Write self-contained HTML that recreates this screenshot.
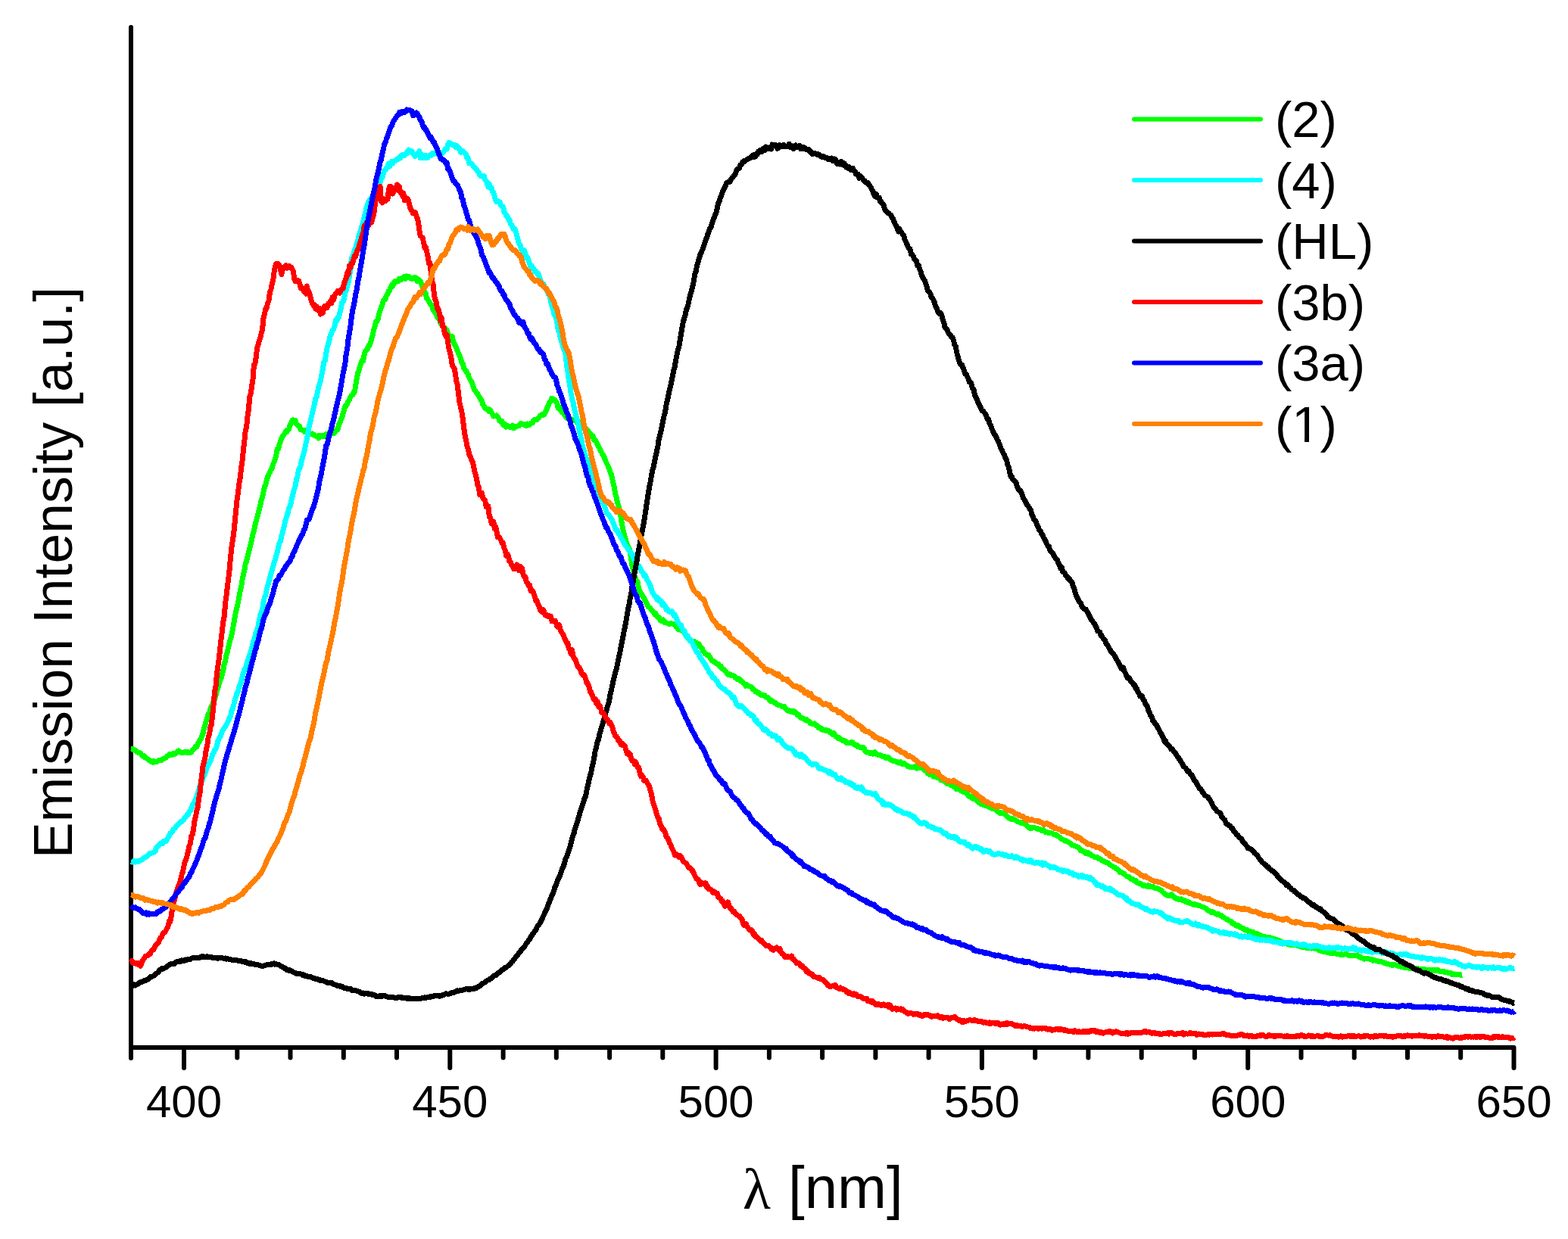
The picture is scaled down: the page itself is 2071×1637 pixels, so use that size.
<!DOCTYPE html>
<html><head><meta charset="utf-8"><title>Emission spectra</title>
<style>html,body{margin:0;padding:0;background:#fff;}body{width:2071px;height:1637px;overflow:hidden;}svg{display:block;}</style>
</head><body>
<svg width="2071" height="1637" viewBox="0 0 2071 1637">
<rect width="2071" height="1637" fill="#fff"/>
<g stroke="#000" stroke-width="6" fill="none">
<path d="M173,36 V1398" stroke-linecap="round"/>
<path d="M173,1384 H1999.5 V1411" stroke-linecap="round" stroke-linejoin="round"/>
<path d="M243.0,1384 V1411" stroke-linecap="round"/>
<path d="M313.3,1384 V1397.5" stroke-linecap="round"/>
<path d="M383.5,1384 V1397.5" stroke-linecap="round"/>
<path d="M453.8,1384 V1397.5" stroke-linecap="round"/>
<path d="M524.0,1384 V1397.5" stroke-linecap="round"/>
<path d="M594.3,1384 V1411" stroke-linecap="round"/>
<path d="M664.6,1384 V1397.5" stroke-linecap="round"/>
<path d="M734.8,1384 V1397.5" stroke-linecap="round"/>
<path d="M805.1,1384 V1397.5" stroke-linecap="round"/>
<path d="M875.3,1384 V1397.5" stroke-linecap="round"/>
<path d="M945.6,1384 V1411" stroke-linecap="round"/>
<path d="M1015.9,1384 V1397.5" stroke-linecap="round"/>
<path d="M1086.1,1384 V1397.5" stroke-linecap="round"/>
<path d="M1156.4,1384 V1397.5" stroke-linecap="round"/>
<path d="M1226.6,1384 V1397.5" stroke-linecap="round"/>
<path d="M1296.9,1384 V1411" stroke-linecap="round"/>
<path d="M1367.2,1384 V1397.5" stroke-linecap="round"/>
<path d="M1437.4,1384 V1397.5" stroke-linecap="round"/>
<path d="M1507.7,1384 V1397.5" stroke-linecap="round"/>
<path d="M1577.9,1384 V1397.5" stroke-linecap="round"/>
<path d="M1648.2,1384 V1411" stroke-linecap="round"/>
<path d="M1718.5,1384 V1397.5" stroke-linecap="round"/>
<path d="M1788.7,1384 V1397.5" stroke-linecap="round"/>
<path d="M1859.0,1384 V1397.5" stroke-linecap="round"/>
<path d="M1929.2,1384 V1397.5" stroke-linecap="round"/>
</g>
<path d="M173.0,989.2 L174.4,989.2 L175.8,990.4 L177.2,990.6 L178.6,990.9 L180.0,992.3 L181.4,994.0 L182.8,994.7 L184.2,994.6 L185.6,995.4 L187.0,997.2 L188.4,998.9 L189.8,998.1 L191.2,1000.7 L192.6,1000.8 L194.0,1002.1 L195.4,1003.2 L196.8,1004.2 L198.2,1005.4 L199.6,1006.3 L201.0,1005.6 L202.4,1007.1 L203.8,1005.8 L205.2,1006.6 L206.6,1006.8 L208.0,1005.8 L209.4,1004.7 L210.8,1004.2 L212.2,1004.2 L213.6,1004.3 L215.0,1002.7 L216.4,1002.6 L217.8,1001.6 L219.2,1000.9 L220.6,999.3 L222.0,998.3 L223.4,996.7 L224.8,996.6 L226.2,997.1 L227.6,997.5 L229.0,995.2 L230.4,996.7 L231.8,995.7 L233.2,994.2 L234.6,992.9 L236.0,992.0 L237.4,993.3 L238.8,994.0 L240.2,994.4 L241.6,994.5 L243.0,994.1 L244.4,993.1 L245.8,994.2 L247.2,994.8 L248.6,993.5 L250.0,994.8 L251.4,994.5 L252.8,993.9 L254.2,991.3 L255.6,990.3 L257.0,988.8 L258.4,986.3 L259.8,986.5 L261.2,982.7 L262.6,981.0 L264.0,977.8 L265.4,976.2 L266.8,972.6 L268.2,968.4 L269.6,962.2 L271.0,957.1 L272.4,951.8 L273.8,948.1 L275.2,943.3 L276.6,942.0 L278.0,936.0 L279.4,933.0 L280.8,930.6 L282.2,926.1 L283.6,923.8 L285.0,918.3 L286.4,913.5 L287.8,909.3 L289.2,904.3 L290.6,899.5 L292.0,896.3 L293.4,890.9 L294.8,885.6 L296.2,877.5 L297.6,873.3 L299.0,865.5 L300.4,861.3 L301.8,854.0 L303.2,848.3 L304.6,843.8 L306.0,838.8 L307.4,831.6 L308.8,823.8 L310.2,815.5 L311.6,808.0 L313.0,802.6 L314.4,796.2 L315.8,788.6 L317.2,781.0 L318.6,775.7 L320.0,766.2 L321.4,759.3 L322.8,753.7 L324.2,744.7 L325.6,741.6 L327.0,735.2 L328.4,730.3 L329.8,724.4 L331.2,718.6 L332.6,712.9 L334.0,705.3 L335.4,701.3 L336.8,694.7 L338.2,689.0 L339.6,683.8 L341.0,678.3 L342.4,673.3 L343.8,667.5 L345.2,660.6 L346.6,656.4 L348.0,650.0 L349.4,643.6 L350.8,640.2 L352.2,634.7 L353.6,630.1 L355.0,626.3 L356.4,624.2 L357.8,621.0 L359.2,618.6 L360.6,613.5 L362.0,610.4 L363.4,606.2 L364.8,601.4 L366.2,593.2 L367.6,592.8 L369.0,587.4 L370.4,583.3 L371.8,579.6 L373.2,576.7 L374.6,574.7 L376.0,572.6 L377.4,569.9 L378.8,570.5 L380.2,567.6 L381.6,566.7 L383.0,561.9 L384.4,559.1 L385.8,555.7 L387.2,554.8 L388.6,555.6 L390.0,555.5 L391.4,559.8 L392.8,561.8 L394.2,562.8 L395.6,563.2 L397.0,567.7 L398.4,567.9 L399.8,568.3 L401.2,568.8 L402.6,570.8 L404.0,568.7 L405.4,569.2 L406.8,568.2 L408.2,572.6 L409.6,572.7 L411.0,573.5 L412.4,572.9 L413.8,574.4 L415.2,574.6 L416.6,576.0 L418.0,576.3 L419.4,575.9 L420.8,579.0 L422.2,575.6 L423.6,577.0 L425.0,576.6 L426.4,575.2 L427.8,576.5 L429.2,574.9 L430.6,573.7 L432.0,574.0 L433.4,572.6 L434.8,574.7 L436.2,574.0 L437.6,573.2 L439.0,571.2 L440.4,570.9 L441.8,572.2 L443.2,569.5 L444.6,567.6 L446.0,567.6 L447.4,561.5 L448.8,558.6 L450.2,554.9 L451.6,552.0 L453.0,546.3 L454.4,541.9 L455.8,536.7 L457.2,536.0 L458.6,533.6 L460.0,530.2 L461.4,528.6 L462.8,524.4 L464.2,522.6 L465.6,522.1 L467.0,518.4 L468.4,518.1 L469.8,509.1 L471.2,500.3 L472.6,493.2 L474.0,489.4 L475.4,484.5 L476.8,479.9 L478.2,475.8 L479.6,476.7 L481.0,469.6 L482.4,464.2 L483.8,462.8 L485.2,461.5 L486.6,457.2 L488.0,456.3 L489.4,452.5 L490.8,447.3 L492.2,442.4 L493.6,436.4 L495.0,431.2 L496.4,425.4 L497.8,424.6 L499.2,421.5 L500.6,414.5 L502.0,410.7 L503.4,406.1 L504.8,403.3 L506.2,397.2 L507.6,396.0 L509.0,395.6 L510.4,390.5 L511.8,389.0 L513.2,384.5 L514.6,384.3 L516.0,379.7 L517.4,376.6 L518.8,378.3 L520.2,373.7 L521.6,371.7 L523.0,372.6 L524.4,371.3 L525.8,371.7 L527.2,368.4 L528.6,369.9 L530.0,369.4 L531.4,367.0 L532.8,367.3 L534.2,365.3 L535.6,368.5 L537.0,364.8 L538.4,365.4 L539.8,365.2 L541.2,366.8 L542.6,367.7 L544.0,368.8 L545.4,367.2 L546.8,367.7 L548.2,366.3 L549.6,367.2 L551.0,371.9 L552.4,370.6 L553.8,369.9 L555.2,371.6 L556.6,375.0 L558.0,379.5 L559.4,383.0 L560.8,385.3 L562.2,387.6 L563.6,393.9 L565.0,395.7 L566.4,397.6 L567.8,400.7 L569.2,403.2 L570.6,403.3 L572.0,409.8 L573.4,410.9 L574.8,413.2 L576.2,415.7 L577.6,419.4 L579.0,419.5 L580.4,421.7 L581.8,426.7 L583.2,429.2 L584.6,429.2 L586.0,432.6 L587.4,433.1 L588.8,435.6 L590.2,436.0 L591.6,440.9 L593.0,443.6 L594.4,445.1 L595.8,447.2 L597.2,444.4 L598.6,451.6 L600.0,454.2 L601.4,457.1 L602.8,459.7 L604.2,463.6 L605.6,467.2 L607.0,469.8 L608.4,473.2 L609.8,479.0 L611.2,480.2 L612.5,486.0 L613.9,488.0 L615.3,489.5 L616.7,492.4 L618.1,494.1 L619.5,498.6 L620.9,501.4 L622.3,503.7 L623.7,506.5 L625.1,511.2 L626.5,514.8 L627.9,516.2 L629.3,519.3 L630.7,520.5 L632.1,523.0 L633.5,524.8 L634.9,528.1 L636.3,529.1 L637.7,534.6 L639.1,536.4 L640.5,539.2 L641.9,539.7 L643.3,541.2 L644.7,540.3 L646.1,543.6 L647.5,541.7 L648.9,544.1 L650.3,547.2 L651.7,550.0 L653.1,549.7 L654.5,549.6 L655.9,548.8 L657.3,551.0 L658.7,552.7 L660.1,556.4 L661.5,557.1 L662.9,556.2 L664.3,561.4 L665.7,560.0 L667.1,560.6 L668.5,564.1 L669.9,563.0 L671.3,562.9 L672.7,563.8 L674.1,564.5 L675.5,564.7 L676.9,562.1 L678.3,565.9 L679.7,565.1 L681.1,563.9 L682.5,563.4 L683.9,562.8 L685.3,563.0 L686.7,560.8 L688.1,559.6 L689.5,560.8 L690.9,560.5 L692.3,560.2 L693.7,561.8 L695.1,562.7 L696.5,560.0 L697.9,560.3 L699.3,561.4 L700.7,560.3 L702.1,558.8 L703.5,558.8 L704.9,555.4 L706.3,554.3 L707.7,554.4 L709.1,554.7 L710.5,552.6 L711.9,551.4 L713.3,549.3 L714.7,548.5 L716.1,547.3 L717.5,548.3 L718.9,547.7 L720.3,544.5 L721.7,541.9 L723.1,537.7 L724.5,535.1 L725.9,531.3 L727.3,530.7 L728.7,526.4 L730.1,527.4 L731.5,527.7 L732.9,528.0 L734.3,531.4 L735.7,532.2 L737.1,539.1 L738.5,537.7 L739.9,541.7 L741.3,540.9 L742.7,545.2 L744.1,545.5 L745.5,548.0 L746.9,549.6 L748.3,552.5 L749.7,552.7 L751.1,551.3 L752.5,554.4 L753.9,555.3 L755.3,554.0 L756.7,555.1 L758.1,555.7 L759.5,555.4 L760.9,555.0 L762.3,558.8 L763.7,558.8 L765.1,557.7 L766.5,561.1 L767.9,559.8 L769.3,560.6 L770.7,563.4 L772.1,566.4 L773.5,565.7 L774.9,570.2 L776.3,568.4 L777.7,571.6 L779.1,572.5 L780.5,573.5 L781.9,576.9 L783.3,576.2 L784.7,581.3 L786.1,581.7 L787.5,583.3 L788.9,586.9 L790.3,589.5 L791.7,591.6 L793.1,595.4 L794.5,597.3 L795.9,600.6 L797.3,601.9 L798.7,606.1 L800.1,609.9 L801.5,612.3 L802.9,615.4 L804.3,618.5 L805.7,622.6 L807.1,626.3 L808.5,631.8 L809.9,637.7 L811.3,644.2 L812.7,652.6 L814.1,657.2 L815.5,663.9 L816.9,667.8 L818.3,673.3 L819.7,680.6 L821.1,690.0 L822.5,697.6 L823.9,704.1 L825.3,709.1 L826.7,714.6 L828.1,718.5 L829.5,722.3 L830.9,724.2 L832.3,730.7 L833.7,738.1 L835.1,748.2 L836.5,754.1 L837.9,760.7 L839.3,763.6 L840.7,768.1 L842.1,768.9 L843.5,776.9 L844.9,780.6 L846.3,784.9 L847.7,785.4 L849.1,788.4 L850.5,790.2 L851.9,792.4 L853.3,795.4 L854.7,798.1 L856.1,801.8 L857.5,802.5 L858.9,803.6 L860.3,806.1 L861.7,807.7 L863.1,808.4 L864.5,811.7 L865.9,810.5 L867.3,813.6 L868.7,815.8 L870.1,815.4 L871.5,818.4 L872.9,820.3 L874.3,820.3 L875.7,819.0 L877.1,820.5 L878.5,823.0 L879.9,822.9 L881.3,823.4 L882.7,824.2 L884.1,824.7 L885.5,823.4 L886.9,823.8 L888.3,824.3 L889.7,824.2 L891.1,825.3 L892.5,827.7 L893.9,826.9 L895.3,830.8 L896.7,831.9 L898.1,829.6 L899.5,832.1 L900.9,833.8 L902.3,834.2 L903.7,835.7 L905.1,837.7 L906.5,840.2 L907.9,840.6 L909.3,844.3 L910.7,844.4 L912.1,845.6 L913.5,848.2 L914.9,848.2 L916.3,848.3 L917.7,847.7 L919.1,849.9 L920.5,849.8 L921.9,850.3 L923.3,850.9 L924.7,854.7 L926.1,855.6 L927.5,857.2 L928.9,860.3 L930.3,862.2 L931.7,864.1 L933.1,864.1 L934.5,865.7 L935.9,865.3 L937.3,868.0 L938.7,870.0 L940.1,872.5 L941.5,873.2 L942.9,874.7 L944.3,874.3 L945.7,875.9 L947.1,877.2 L948.5,877.1 L949.9,879.7 L951.3,880.6 L952.7,880.5 L954.1,884.1 L955.5,884.2 L956.9,885.1 L958.3,886.9 L959.7,888.7 L961.1,891.0 L962.5,890.3 L963.9,891.2 L965.3,892.2 L966.7,891.9 L968.1,893.1 L969.5,892.9 L970.9,895.2 L972.3,895.6 L973.7,897.3 L975.1,896.2 L976.5,897.1 L977.9,899.7 L979.3,899.7 L980.7,901.0 L982.1,902.9 L983.5,903.6 L984.9,906.2 L986.3,904.5 L987.7,905.7 L989.1,906.5 L990.5,906.9 L991.9,907.5 L993.3,908.7 L994.7,911.1 L996.1,911.1 L997.5,913.7 L998.9,913.0 L1000.3,914.8 L1001.7,916.1 L1003.1,915.8 L1004.5,918.0 L1005.9,918.1 L1007.3,918.0 L1008.7,918.3 L1010.1,919.0 L1011.5,921.2 L1012.9,921.0 L1014.3,921.7 L1015.7,923.4 L1017.1,926.2 L1018.5,925.3 L1019.9,926.6 L1021.3,927.2 L1022.7,928.7 L1024.1,928.1 L1025.5,929.9 L1026.9,931.3 L1028.3,931.7 L1029.7,932.0 L1031.1,932.1 L1032.5,933.2 L1033.9,933.7 L1035.3,933.1 L1036.7,934.8 L1038.1,936.8 L1039.5,938.2 L1040.9,939.1 L1042.3,938.5 L1043.7,939.8 L1045.1,940.5 L1046.5,939.7 L1047.9,939.5 L1049.3,941.5 L1050.7,940.8 L1052.1,942.9 L1053.5,944.9 L1054.9,944.5 L1056.3,946.8 L1057.7,948.7 L1059.1,948.6 L1060.5,949.2 L1061.9,950.0 L1063.3,951.2 L1064.7,950.5 L1066.1,952.3 L1067.5,952.5 L1068.9,953.6 L1070.3,955.6 L1071.7,955.8 L1073.1,956.4 L1074.5,956.8 L1075.9,955.9 L1077.3,958.4 L1078.7,958.0 L1080.1,959.7 L1081.5,961.7 L1082.9,961.0 L1084.3,961.9 L1085.7,964.2 L1087.1,964.2 L1088.5,964.9 L1089.9,964.2 L1091.3,965.6 L1092.7,965.0 L1094.1,965.7 L1095.5,967.3 L1096.9,966.9 L1098.3,968.6 L1099.7,970.6 L1101.1,968.4 L1102.5,970.4 L1103.9,973.2 L1105.3,973.5 L1106.7,975.5 L1108.1,974.6 L1109.5,976.3 L1110.9,976.7 L1112.3,977.7 L1113.7,978.8 L1115.1,978.4 L1116.5,979.2 L1117.9,981.7 L1119.3,981.3 L1120.7,981.4 L1122.1,981.4 L1123.5,981.7 L1124.9,980.6 L1126.3,981.0 L1127.7,983.4 L1129.1,983.4 L1130.5,984.8 L1131.9,984.5 L1133.3,986.9 L1134.7,986.9 L1136.1,987.6 L1137.5,988.1 L1138.9,987.6 L1140.3,987.7 L1141.7,989.6 L1143.1,993.1 L1144.5,994.1 L1145.9,993.7 L1147.3,994.3 L1148.7,995.6 L1150.1,994.8 L1151.5,994.1 L1152.9,996.1 L1154.3,995.7 L1155.7,993.8 L1157.1,995.9 L1158.5,996.8 L1159.9,997.5 L1161.3,997.8 L1162.7,997.8 L1164.1,998.6 L1165.5,999.3 L1166.9,999.3 L1168.3,999.7 L1169.7,1001.5 L1171.1,1000.5 L1172.5,1001.5 L1173.9,1000.8 L1175.3,1003.3 L1176.7,1004.1 L1178.1,1004.6 L1179.5,1005.5 L1180.9,1005.6 L1182.3,1005.9 L1183.7,1006.4 L1185.1,1006.4 L1186.5,1008.1 L1187.9,1007.4 L1189.3,1006.8 L1190.7,1008.8 L1192.1,1009.8 L1193.5,1008.3 L1194.9,1009.8 L1196.3,1010.3 L1197.7,1011.5 L1199.1,1012.7 L1200.5,1012.6 L1201.9,1013.9 L1203.3,1013.4 L1204.7,1014.0 L1206.1,1013.2 L1207.5,1013.0 L1208.9,1012.5 L1210.3,1015.0 L1211.7,1015.1 L1213.1,1013.7 L1214.5,1014.9 L1215.9,1014.9 L1217.3,1015.0 L1218.7,1014.8 L1220.1,1017.2 L1221.5,1017.2 L1222.9,1018.9 L1224.3,1020.2 L1225.7,1021.9 L1227.1,1020.5 L1228.5,1023.8 L1229.9,1023.8 L1231.3,1023.8 L1232.7,1025.9 L1234.1,1025.1 L1235.5,1026.3 L1236.9,1025.7 L1238.3,1027.6 L1239.7,1027.4 L1241.1,1027.7 L1242.5,1030.5 L1243.9,1029.8 L1245.3,1031.2 L1246.7,1032.1 L1248.1,1032.7 L1249.5,1034.6 L1250.9,1035.5 L1252.3,1035.8 L1253.7,1034.2 L1255.1,1037.2 L1256.5,1036.9 L1257.9,1037.0 L1259.3,1039.1 L1260.7,1040.0 L1262.1,1039.6 L1263.5,1042.9 L1264.9,1040.9 L1266.3,1041.1 L1267.7,1042.4 L1269.1,1045.1 L1270.5,1044.9 L1271.9,1045.6 L1273.3,1046.7 L1274.7,1047.1 L1276.1,1048.0 L1277.5,1049.1 L1278.9,1051.2 L1280.3,1052.5 L1281.7,1052.0 L1283.1,1053.8 L1284.5,1055.0 L1285.9,1054.6 L1287.3,1055.9 L1288.7,1056.6 L1290.1,1057.4 L1291.5,1059.3 L1292.9,1059.7 L1294.3,1061.5 L1295.7,1062.0 L1297.1,1063.1 L1298.5,1063.2 L1299.9,1063.4 L1301.3,1064.2 L1302.7,1064.7 L1304.1,1064.6 L1305.5,1065.8 L1306.9,1066.4 L1308.3,1066.5 L1309.7,1068.1 L1311.1,1067.2 L1312.5,1068.9 L1313.9,1069.0 L1315.3,1070.2 L1316.7,1070.3 L1318.1,1072.6 L1319.5,1073.0 L1320.9,1074.6 L1322.3,1073.5 L1323.7,1074.5 L1325.1,1074.6 L1326.5,1075.5 L1327.9,1076.4 L1329.3,1078.0 L1330.7,1079.4 L1332.1,1080.5 L1333.5,1081.0 L1334.9,1082.0 L1336.3,1082.7 L1337.7,1081.6 L1339.1,1082.4 L1340.5,1082.9 L1341.9,1084.1 L1343.3,1084.9 L1344.7,1085.9 L1346.1,1086.0 L1347.5,1087.0 L1348.9,1086.5 L1350.3,1087.6 L1351.7,1087.6 L1353.1,1088.4 L1354.5,1088.6 L1355.9,1090.6 L1357.3,1091.6 L1358.7,1092.7 L1360.1,1094.3 L1361.5,1093.1 L1362.9,1094.1 L1364.3,1093.2 L1365.7,1093.7 L1367.1,1094.0 L1368.5,1094.4 L1369.9,1095.1 L1371.3,1094.9 L1372.7,1095.5 L1374.1,1096.2 L1375.5,1097.5 L1376.9,1096.3 L1378.3,1096.5 L1379.7,1098.3 L1381.1,1099.4 L1382.5,1099.9 L1383.9,1099.9 L1385.3,1100.6 L1386.7,1100.7 L1388.1,1100.5 L1389.5,1101.0 L1390.9,1101.8 L1392.3,1102.5 L1393.7,1103.2 L1395.1,1102.9 L1396.5,1104.3 L1397.9,1105.0 L1399.3,1106.0 L1400.7,1106.9 L1402.1,1108.6 L1403.5,1108.9 L1404.9,1109.8 L1406.3,1111.1 L1407.7,1110.9 L1409.1,1111.5 L1410.5,1112.3 L1411.9,1113.1 L1413.3,1114.1 L1414.7,1115.0 L1416.1,1116.6 L1417.5,1117.0 L1418.9,1117.2 L1420.3,1118.1 L1421.7,1118.2 L1423.1,1119.4 L1424.5,1119.8 L1425.9,1121.5 L1427.3,1123.7 L1428.7,1123.2 L1430.1,1124.9 L1431.5,1125.2 L1432.9,1125.5 L1434.3,1127.5 L1435.7,1127.6 L1437.1,1126.5 L1438.5,1128.8 L1439.9,1128.1 L1441.3,1129.5 L1442.7,1130.9 L1444.1,1131.0 L1445.5,1132.6 L1446.9,1132.9 L1448.3,1132.1 L1449.7,1133.6 L1451.1,1134.7 L1452.5,1134.8 L1453.9,1135.6 L1455.3,1136.9 L1456.7,1137.5 L1458.1,1137.7 L1459.5,1139.2 L1460.9,1139.4 L1462.3,1139.5 L1463.7,1140.2 L1465.1,1142.0 L1466.5,1142.8 L1467.9,1143.9 L1469.3,1144.2 L1470.7,1145.7 L1472.1,1146.0 L1473.5,1146.8 L1474.9,1148.1 L1476.3,1148.2 L1477.7,1150.4 L1479.1,1152.6 L1480.5,1152.6 L1481.9,1152.8 L1483.3,1154.2 L1484.7,1154.4 L1486.1,1156.1 L1487.5,1157.5 L1488.9,1158.3 L1490.3,1158.0 L1491.7,1159.3 L1493.0,1160.5 L1494.4,1161.7 L1495.8,1161.2 L1497.2,1162.2 L1498.6,1163.8 L1500.0,1163.1 L1501.4,1165.6 L1502.8,1166.7 L1504.2,1167.2 L1505.6,1167.0 L1507.0,1168.3 L1508.4,1168.6 L1509.8,1170.1 L1511.2,1169.7 L1512.6,1170.4 L1514.0,1170.6 L1515.4,1171.3 L1516.8,1169.6 L1518.2,1171.0 L1519.6,1171.7 L1521.0,1171.3 L1522.4,1171.1 L1523.8,1172.7 L1525.2,1173.3 L1526.6,1173.4 L1528.0,1173.3 L1529.4,1174.1 L1530.8,1175.1 L1532.2,1175.7 L1533.6,1176.1 L1535.0,1177.8 L1536.4,1179.4 L1537.8,1180.2 L1539.2,1181.5 L1540.6,1182.3 L1542.0,1183.1 L1543.4,1183.9 L1544.8,1183.1 L1546.2,1182.0 L1547.6,1181.7 L1549.0,1184.1 L1550.4,1185.3 L1551.8,1185.7 L1553.2,1187.4 L1554.6,1187.3 L1556.0,1188.2 L1557.4,1187.9 L1558.8,1188.6 L1560.2,1187.9 L1561.6,1189.2 L1563.0,1189.8 L1564.4,1189.5 L1565.8,1191.8 L1567.2,1190.9 L1568.6,1192.4 L1570.0,1191.7 L1571.4,1192.5 L1572.8,1194.0 L1574.2,1194.2 L1575.6,1194.8 L1577.0,1195.4 L1578.4,1194.8 L1579.8,1195.6 L1581.2,1195.5 L1582.6,1196.4 L1584.0,1196.3 L1585.4,1197.1 L1586.8,1197.6 L1588.2,1198.2 L1589.6,1198.8 L1591.0,1199.3 L1592.4,1200.0 L1593.8,1201.2 L1595.2,1203.0 L1596.6,1203.4 L1598.0,1204.2 L1599.4,1205.2 L1600.8,1204.5 L1602.2,1206.0 L1603.6,1205.8 L1605.0,1206.9 L1606.4,1207.7 L1607.8,1208.6 L1609.2,1207.6 L1610.6,1208.5 L1612.0,1210.0 L1613.4,1209.6 L1614.8,1211.7 L1616.2,1212.3 L1617.6,1212.8 L1619.0,1213.9 L1620.4,1214.8 L1621.8,1214.8 L1623.2,1216.3 L1624.6,1217.0 L1626.0,1217.2 L1627.4,1219.8 L1628.8,1220.6 L1630.2,1220.6 L1631.6,1221.7 L1633.0,1223.1 L1634.4,1223.0 L1635.8,1222.8 L1637.2,1224.7 L1638.6,1224.6 L1640.0,1226.2 L1641.4,1226.1 L1642.8,1226.8 L1644.2,1229.0 L1645.6,1228.3 L1647.0,1228.6 L1648.4,1229.9 L1649.8,1231.0 L1651.2,1230.4 L1652.6,1231.2 L1654.0,1232.5 L1655.4,1231.3 L1656.8,1232.9 L1658.2,1234.2 L1659.6,1233.8 L1661.0,1233.7 L1662.4,1236.1 L1663.8,1235.1 L1665.2,1236.2 L1666.6,1236.7 L1668.0,1237.2 L1669.4,1237.3 L1670.8,1237.7 L1672.2,1238.2 L1673.6,1238.5 L1675.0,1239.0 L1676.4,1238.2 L1677.8,1240.0 L1679.2,1239.6 L1680.6,1239.6 L1682.0,1241.6 L1683.4,1240.5 L1684.8,1241.5 L1686.2,1241.5 L1687.6,1242.2 L1689.0,1243.3 L1690.4,1243.0 L1691.8,1244.2 L1693.2,1244.7 L1694.6,1245.6 L1696.0,1245.4 L1697.4,1246.4 L1698.8,1247.0 L1700.2,1247.2 L1701.6,1247.0 L1703.0,1247.2 L1704.4,1248.7 L1705.8,1248.7 L1707.2,1247.6 L1708.6,1248.6 L1710.0,1248.7 L1711.4,1248.7 L1712.8,1249.1 L1714.2,1249.6 L1715.6,1250.2 L1717.0,1250.2 L1718.4,1250.5 L1719.8,1251.3 L1721.2,1251.1 L1722.6,1251.4 L1724.0,1251.9 L1725.4,1252.5 L1726.8,1252.7 L1728.2,1252.8 L1729.6,1253.0 L1731.0,1252.4 L1732.4,1253.1 L1733.8,1252.3 L1735.2,1252.3 L1736.6,1253.3 L1738.0,1253.3 L1739.4,1254.1 L1740.8,1254.3 L1742.2,1255.9 L1743.6,1256.0 L1745.0,1256.9 L1746.4,1257.0 L1747.8,1257.1 L1749.2,1257.0 L1750.6,1257.6 L1752.0,1258.2 L1753.4,1258.4 L1754.8,1257.8 L1756.2,1259.2 L1757.6,1258.9 L1759.0,1259.7 L1760.4,1259.1 L1761.8,1259.9 L1763.2,1259.4 L1764.6,1260.1 L1766.0,1260.3 L1767.4,1260.7 L1768.8,1260.9 L1770.2,1261.2 L1771.6,1260.5 L1773.0,1261.6 L1774.4,1261.5 L1775.8,1260.8 L1777.2,1260.4 L1778.6,1260.9 L1780.0,1261.9 L1781.4,1262.2 L1782.8,1262.1 L1784.2,1263.0 L1785.6,1262.2 L1787.0,1262.4 L1788.4,1262.8 L1789.8,1262.5 L1791.2,1262.5 L1792.6,1261.9 L1794.0,1263.8 L1795.4,1264.2 L1796.8,1263.9 L1798.2,1265.6 L1799.6,1266.0 L1801.0,1266.6 L1802.4,1267.2 L1803.8,1266.4 L1805.2,1266.9 L1806.6,1266.8 L1808.0,1266.9 L1809.4,1267.5 L1810.8,1267.6 L1812.2,1267.6 L1813.6,1269.2 L1815.0,1268.4 L1816.4,1269.0 L1817.8,1269.0 L1819.2,1269.7 L1820.6,1270.5 L1822.0,1270.9 L1823.4,1270.8 L1824.8,1270.7 L1826.2,1271.2 L1827.6,1271.7 L1829.0,1272.9 L1830.4,1272.5 L1831.8,1273.7 L1833.2,1273.5 L1834.6,1273.9 L1836.0,1274.9 L1837.4,1274.3 L1838.8,1275.6 L1840.2,1274.5 L1841.6,1274.9 L1843.0,1274.7 L1844.4,1275.2 L1845.8,1276.0 L1847.2,1276.4 L1848.6,1276.7 L1850.0,1277.3 L1851.4,1277.1 L1852.8,1277.4 L1854.2,1278.4 L1855.6,1279.0 L1857.0,1278.5 L1858.4,1278.2 L1859.8,1278.2 L1861.2,1278.7 L1862.6,1279.7 L1864.0,1279.0 L1865.4,1278.7 L1866.8,1279.1 L1868.2,1279.4 L1869.6,1280.0 L1871.0,1279.7 L1872.4,1279.6 L1873.8,1280.0 L1875.2,1280.3 L1876.6,1280.7 L1878.0,1280.9 L1879.4,1280.7 L1880.8,1280.4 L1882.2,1281.0 L1883.6,1281.6 L1885.0,1281.0 L1886.4,1281.7 L1887.8,1281.3 L1889.2,1281.2 L1890.6,1281.8 L1892.0,1281.3 L1893.4,1282.0 L1894.8,1281.3 L1896.2,1282.5 L1897.6,1282.8 L1899.0,1281.4 L1900.4,1282.9 L1901.8,1283.8 L1903.2,1283.7 L1904.6,1283.4 L1906.0,1283.9 L1907.4,1283.8 L1908.8,1284.9 L1910.2,1284.3 L1911.6,1284.7 L1913.0,1285.6 L1914.4,1285.2 L1915.8,1285.5 L1917.2,1286.1 L1918.6,1287.9 L1920.0,1287.5 L1921.4,1286.9 L1922.8,1288.0 L1924.2,1287.4 L1925.6,1287.9 L1927.0,1287.6 L1928.4,1287.8 L1929.8,1288.7 L1931.2,1288.4" fill="none" stroke="#00ff00" stroke-width="7" stroke-linejoin="round" stroke-linecap="butt" shape-rendering="crispEdges"/>
<path d="M173.0,1138.6 L174.4,1139.1 L175.8,1138.5 L177.2,1137.3 L178.6,1139.1 L180.0,1138.8 L181.4,1137.8 L182.8,1138.1 L184.2,1137.4 L185.6,1136.7 L187.0,1135.9 L188.4,1135.5 L189.8,1133.6 L191.2,1133.1 L192.6,1131.9 L194.0,1131.5 L195.4,1129.8 L196.8,1128.6 L198.2,1127.5 L199.6,1127.3 L201.0,1126.9 L202.4,1125.9 L203.8,1126.1 L205.2,1124.5 L206.6,1120.0 L208.0,1118.6 L209.4,1117.8 L210.8,1115.6 L212.2,1114.5 L213.6,1113.5 L215.0,1114.3 L216.4,1111.3 L217.8,1111.1 L219.2,1111.8 L220.6,1109.0 L222.0,1106.9 L223.4,1103.9 L224.8,1100.9 L226.2,1100.5 L227.6,1098.6 L229.0,1095.9 L230.4,1094.7 L231.8,1093.5 L233.2,1091.1 L234.6,1090.1 L236.0,1088.8 L237.4,1087.4 L238.8,1085.7 L240.2,1085.3 L241.6,1084.1 L243.0,1082.1 L244.4,1079.5 L245.8,1079.1 L247.2,1076.5 L248.6,1075.9 L250.0,1072.2 L251.4,1071.2 L252.8,1067.6 L254.2,1063.7 L255.6,1061.7 L257.0,1059.2 L258.4,1056.4 L259.8,1052.0 L261.2,1047.9 L262.6,1044.2 L264.0,1038.8 L265.4,1035.0 L266.8,1032.0 L268.2,1026.5 L269.6,1024.7 L271.0,1021.9 L272.4,1016.8 L273.8,1012.9 L275.2,1011.3 L276.6,1008.0 L278.0,1005.5 L279.4,1001.0 L280.8,996.5 L282.2,994.5 L283.6,991.1 L285.0,989.0 L286.4,985.0 L287.8,979.6 L289.2,976.0 L290.6,974.2 L292.0,970.5 L293.4,966.2 L294.8,964.1 L296.2,962.0 L297.6,959.6 L299.0,957.7 L300.4,954.7 L301.8,951.8 L303.2,948.5 L304.6,946.2 L306.0,938.7 L307.4,936.0 L308.8,931.0 L310.2,924.3 L311.6,921.1 L313.0,915.8 L314.4,913.3 L315.8,908.1 L317.2,904.4 L318.6,900.3 L320.0,894.9 L321.4,889.3 L322.8,884.5 L324.2,883.8 L325.6,877.9 L327.0,873.3 L328.4,870.0 L329.8,865.2 L331.2,861.6 L332.6,855.6 L334.0,850.5 L335.4,844.8 L336.8,841.3 L338.2,835.0 L339.6,832.1 L341.0,827.9 L342.4,819.1 L343.8,812.2 L345.2,809.4 L346.6,805.2 L348.0,795.3 L349.4,789.4 L350.8,786.1 L352.2,779.1 L353.6,773.9 L355.0,768.4 L356.5,763.8 L357.9,757.5 L359.3,753.4 L360.7,748.3 L362.1,743.0 L363.5,739.1 L364.9,733.6 L366.3,729.6 L367.7,722.7 L369.1,717.3 L370.5,715.2 L371.9,708.3 L373.3,703.1 L374.7,698.2 L376.1,691.4 L377.5,686.1 L378.9,681.8 L380.3,677.0 L381.7,671.0 L383.1,669.3 L384.5,662.9 L385.9,657.1 L387.3,651.5 L388.7,646.0 L390.1,642.6 L391.5,633.3 L392.9,629.5 L394.3,621.3 L395.7,618.8 L397.1,615.0 L398.5,608.6 L399.9,603.0 L401.3,598.4 L402.7,592.6 L404.1,585.6 L405.5,580.0 L406.9,570.6 L408.3,563.0 L409.7,557.4 L411.1,551.6 L412.5,546.0 L413.9,539.9 L415.3,534.5 L416.7,526.7 L418.1,524.8 L419.5,517.5 L420.9,510.8 L422.3,507.1 L423.7,501.7 L425.1,494.0 L426.5,486.7 L427.9,478.2 L429.3,476.6 L430.7,467.7 L432.1,459.3 L433.5,454.5 L434.9,450.4 L436.3,443.0 L437.7,440.8 L439.1,436.0 L440.5,434.9 L441.9,431.3 L443.3,423.3 L444.7,424.4 L446.1,419.1 L447.5,419.3 L448.9,413.1 L450.3,407.8 L451.7,399.7 L453.1,398.7 L454.5,394.7 L455.9,386.3 L457.3,384.1 L458.7,377.6 L460.1,372.9 L461.5,364.5 L462.9,357.4 L464.3,342.0 L465.7,338.0 L467.1,335.2 L468.5,329.9 L469.9,326.7 L471.3,322.0 L472.7,317.7 L474.1,311.0 L475.5,307.1 L476.9,302.6 L478.3,297.6 L479.7,293.1 L481.1,286.8 L482.5,282.0 L483.9,274.6 L485.3,270.4 L486.7,266.6 L488.1,264.9 L489.5,262.4 L490.9,263.6 L492.3,259.0 L493.7,256.9 L495.1,255.6 L496.5,252.9 L497.9,248.9 L499.3,243.7 L500.7,244.5 L502.1,241.1 L503.5,234.9 L504.9,234.6 L506.3,229.1 L507.7,225.5 L509.1,224.6 L510.5,221.8 L511.9,220.4 L513.3,216.0 L514.7,220.0 L516.1,215.6 L517.5,213.4 L518.9,215.8 L520.3,213.1 L521.7,212.9 L523.1,210.9 L524.5,210.6 L525.9,210.3 L527.3,207.8 L528.7,208.8 L530.1,205.8 L531.5,204.4 L532.9,205.6 L534.3,205.8 L535.7,203.8 L537.1,201.5 L538.5,202.5 L539.9,198.0 L541.3,199.0 L542.7,201.0 L544.1,199.9 L545.5,203.4 L546.9,204.5 L548.3,206.7 L549.7,203.8 L551.1,203.5 L552.5,204.3 L553.9,199.7 L555.3,208.7 L556.7,203.9 L558.1,205.2 L559.5,208.8 L560.9,208.0 L562.3,205.4 L563.7,208.6 L565.1,208.3 L566.5,205.5 L567.9,205.0 L569.3,205.4 L570.7,202.4 L572.1,203.8 L573.5,203.1 L574.9,201.9 L576.3,201.4 L577.7,203.7 L579.1,202.7 L580.5,205.1 L581.9,203.0 L583.3,203.2 L584.7,201.4 L586.1,200.5 L587.5,197.5 L588.9,197.9 L590.3,196.9 L591.7,190.7 L593.1,188.6 L594.5,189.3 L595.9,189.7 L597.3,190.3 L598.7,192.1 L600.1,191.7 L601.5,194.3 L602.9,192.3 L604.3,193.6 L605.7,196.3 L607.1,196.5 L608.5,201.2 L609.9,199.3 L611.3,199.7 L612.7,201.2 L614.1,203.1 L615.5,203.6 L616.9,208.8 L618.3,209.0 L619.7,215.9 L621.1,215.5 L622.5,216.2 L623.9,217.4 L625.3,219.8 L626.7,221.8 L628.1,222.2 L629.5,223.9 L630.9,226.6 L632.3,227.7 L633.7,231.4 L635.1,232.9 L636.5,232.1 L637.9,233.8 L639.3,232.5 L640.7,237.6 L642.1,239.3 L643.5,242.9 L644.9,247.1 L646.3,243.0 L647.7,248.2 L649.1,247.9 L650.5,253.6 L651.9,254.7 L653.3,260.0 L654.7,264.3 L656.1,266.8 L657.5,266.9 L658.9,266.0 L660.3,267.2 L661.7,271.1 L663.1,272.5 L664.5,273.2 L665.9,280.1 L667.3,282.2 L668.7,285.2 L670.1,285.6 L671.5,289.9 L672.9,290.1 L674.3,295.5 L675.7,296.6 L677.1,300.4 L678.5,302.8 L679.9,302.4 L681.3,306.6 L682.7,310.8 L684.1,317.3 L685.5,321.6 L686.9,323.0 L688.3,328.5 L689.7,330.9 L691.1,334.6 L692.5,330.8 L693.9,334.9 L695.3,340.6 L696.7,339.9 L698.1,343.3 L699.5,348.6 L700.9,351.7 L702.3,351.1 L703.7,354.6 L705.1,355.5 L706.5,359.0 L707.9,358.3 L709.3,361.5 L710.7,361.2 L712.1,365.2 L713.5,368.6 L714.9,373.3 L716.3,375.0 L717.7,375.0 L719.1,379.0 L720.5,381.5 L722.0,383.0 L723.4,385.9 L724.8,389.4 L726.2,391.3 L727.6,398.9 L729.0,404.4 L730.4,408.1 L731.8,415.0 L733.2,416.1 L734.6,421.3 L736.0,427.0 L737.4,437.5 L738.8,438.3 L740.2,446.6 L741.6,451.4 L743.0,454.9 L744.4,460.9 L745.8,463.9 L747.2,469.7 L748.6,483.1 L750.0,492.0 L751.4,503.0 L752.8,510.0 L754.2,520.3 L755.6,526.8 L757.0,531.4 L758.4,540.0 L759.8,544.8 L761.2,549.9 L762.6,556.0 L764.0,561.9 L765.4,569.5 L766.8,576.1 L768.2,582.2 L769.6,590.5 L771.0,594.0 L772.4,599.8 L773.8,603.8 L775.2,608.9 L776.6,610.2 L778.0,617.4 L779.4,620.0 L780.8,624.1 L782.2,627.9 L783.6,633.7 L785.0,636.9 L786.4,639.2 L787.8,642.4 L789.2,646.2 L790.6,649.1 L792.0,654.4 L793.4,658.1 L794.8,660.8 L796.2,663.7 L797.6,666.3 L799.0,670.3 L800.4,674.5 L801.8,678.8 L803.2,679.8 L804.6,680.7 L806.0,683.4 L807.4,685.2 L808.8,687.6 L810.2,691.4 L811.6,694.9 L813.0,699.5 L814.4,699.4 L815.8,702.9 L817.2,705.4 L818.6,705.9 L820.0,710.5 L821.4,712.4 L822.8,714.1 L824.2,717.8 L825.6,720.1 L827.0,721.9 L828.4,723.7 L829.8,725.8 L831.2,727.9 L832.6,728.5 L834.0,731.9 L835.4,732.9 L836.8,737.8 L838.2,740.9 L839.6,742.6 L841.0,744.8 L842.4,747.0 L843.8,747.6 L845.2,750.2 L846.6,753.1 L848.0,755.6 L849.4,756.7 L850.8,761.0 L852.2,760.0 L853.6,763.6 L855.0,766.8 L856.4,768.6 L857.8,771.4 L859.2,774.6 L860.6,779.5 L862.0,783.6 L863.4,785.2 L864.8,787.5 L866.2,789.0 L867.6,791.7 L869.0,790.0 L870.4,793.7 L871.8,794.5 L873.2,794.0 L874.6,799.3 L876.0,797.0 L877.4,799.3 L878.8,801.3 L880.2,805.8 L881.6,805.0 L883.0,807.6 L884.4,808.2 L885.8,808.6 L887.2,807.7 L888.6,809.6 L890.0,813.6 L891.4,812.2 L892.8,815.3 L894.2,818.8 L895.6,822.5 L897.0,824.1 L898.4,826.4 L899.8,826.4 L901.2,830.9 L902.6,833.0 L904.0,833.2 L905.4,838.8 L906.8,841.5 L908.2,840.0 L909.6,842.8 L911.0,846.4 L912.4,845.8 L913.8,847.8 L915.2,851.1 L916.6,854.5 L918.0,856.9 L919.4,860.4 L920.8,862.0 L922.2,862.3 L923.6,866.0 L925.0,869.3 L926.4,870.7 L927.8,872.9 L929.2,874.3 L930.6,877.8 L932.0,878.3 L933.4,882.3 L934.8,883.7 L936.2,887.3 L937.6,889.0 L939.0,889.7 L940.4,892.9 L941.8,895.7 L943.2,895.1 L944.6,897.6 L946.0,899.1 L947.4,900.1 L948.8,904.1 L950.2,906.2 L951.6,907.5 L953.0,908.6 L954.4,909.5 L955.8,910.6 L957.2,910.3 L958.6,912.7 L960.0,913.9 L961.4,915.0 L962.8,914.9 L964.2,916.9 L965.6,918.1 L967.0,921.5 L968.4,921.5 L969.8,921.5 L971.2,926.2 L972.6,930.3 L974.0,931.4 L975.4,933.4 L976.8,933.7 L978.2,932.3 L979.6,932.9 L981.0,934.0 L982.4,935.9 L983.8,937.5 L985.2,939.3 L986.6,939.8 L988.0,942.4 L989.4,942.4 L990.8,943.1 L992.2,945.9 L993.6,945.8 L995.0,945.9 L996.4,949.7 L997.8,952.8 L999.2,951.4 L1000.6,955.4 L1002.0,956.5 L1003.4,956.7 L1004.8,958.0 L1006.2,960.6 L1007.6,962.1 L1009.0,965.1 L1010.4,965.0 L1011.8,963.8 L1013.2,965.2 L1014.6,967.6 L1016.0,969.8 L1017.4,969.3 L1018.8,970.1 L1020.2,972.4 L1021.6,971.4 L1023.0,972.1 L1024.4,972.1 L1025.8,974.1 L1027.2,977.7 L1028.6,975.4 L1030.0,977.9 L1031.4,977.9 L1032.8,980.9 L1034.2,983.2 L1035.6,983.7 L1037.0,985.8 L1038.4,986.7 L1039.8,987.0 L1041.2,988.6 L1042.6,988.4 L1044.0,988.3 L1045.4,989.0 L1046.8,990.2 L1048.2,992.7 L1049.6,993.3 L1051.0,997.3 L1052.4,997.6 L1053.8,996.6 L1055.2,997.2 L1056.6,999.5 L1058.0,996.5 L1059.4,998.3 L1060.8,1000.3 L1062.2,999.7 L1063.6,1001.4 L1065.0,1002.8 L1066.4,1005.0 L1067.8,1005.9 L1069.2,1007.5 L1070.6,1008.9 L1072.0,1009.2 L1073.4,1010.7 L1074.8,1009.4 L1076.2,1009.2 L1077.6,1009.6 L1079.0,1010.8 L1080.4,1013.1 L1081.8,1015.7 L1083.2,1015.9 L1084.6,1015.8 L1086.0,1015.8 L1087.5,1016.8 L1088.9,1017.5 L1090.3,1018.1 L1091.7,1017.9 L1093.1,1019.3 L1094.5,1021.3 L1095.9,1019.2 L1097.3,1021.8 L1098.7,1021.1 L1100.1,1023.9 L1101.5,1023.8 L1102.9,1023.3 L1104.3,1026.2 L1105.7,1028.7 L1107.1,1028.2 L1108.5,1029.9 L1109.9,1029.3 L1111.3,1028.0 L1112.7,1031.0 L1114.1,1031.1 L1115.5,1030.9 L1116.9,1033.5 L1118.3,1033.5 L1119.7,1033.2 L1121.1,1035.1 L1122.5,1034.3 L1123.9,1036.4 L1125.3,1035.8 L1126.7,1037.9 L1128.1,1037.5 L1129.5,1040.7 L1130.9,1040.4 L1132.3,1041.8 L1133.7,1040.0 L1135.1,1040.5 L1136.5,1042.2 L1137.9,1040.0 L1139.3,1042.6 L1140.7,1045.6 L1142.1,1046.1 L1143.5,1047.3 L1144.9,1046.8 L1146.3,1048.1 L1147.7,1047.6 L1149.1,1047.7 L1150.5,1047.9 L1151.9,1049.3 L1153.3,1049.6 L1154.7,1050.1 L1156.1,1048.6 L1157.5,1051.2 L1158.9,1053.9 L1160.3,1056.2 L1161.7,1056.9 L1163.1,1057.9 L1164.5,1057.7 L1165.9,1062.3 L1167.3,1060.4 L1168.7,1063.4 L1170.1,1063.7 L1171.5,1062.8 L1172.9,1062.5 L1174.3,1063.6 L1175.7,1063.1 L1177.1,1064.7 L1178.5,1065.0 L1179.9,1066.1 L1181.3,1067.5 L1182.7,1069.4 L1184.1,1068.9 L1185.5,1071.0 L1186.9,1070.3 L1188.3,1070.9 L1189.7,1071.8 L1191.1,1072.0 L1192.5,1074.1 L1193.9,1074.3 L1195.3,1075.0 L1196.7,1074.4 L1198.1,1075.2 L1199.5,1075.2 L1200.9,1075.5 L1202.3,1077.5 L1203.7,1078.1 L1205.1,1077.8 L1206.5,1080.2 L1207.9,1079.5 L1209.3,1082.2 L1210.7,1083.2 L1212.1,1084.7 L1213.5,1085.4 L1214.9,1087.8 L1216.3,1087.8 L1217.7,1088.4 L1219.1,1087.5 L1220.5,1086.6 L1221.9,1087.8 L1223.3,1087.8 L1224.7,1090.0 L1226.1,1091.5 L1227.5,1091.7 L1228.9,1091.8 L1230.3,1092.7 L1231.7,1093.8 L1233.1,1093.1 L1234.5,1095.1 L1235.9,1095.8 L1237.3,1095.6 L1238.7,1096.0 L1240.1,1096.7 L1241.5,1096.3 L1242.9,1096.9 L1244.3,1099.1 L1245.7,1099.7 L1247.1,1101.9 L1248.5,1100.9 L1249.9,1101.3 L1251.3,1104.4 L1252.7,1105.4 L1254.1,1104.8 L1255.5,1104.9 L1256.9,1106.5 L1258.3,1105.6 L1259.7,1106.9 L1261.1,1105.7 L1262.5,1107.7 L1263.9,1107.0 L1265.3,1109.4 L1266.7,1111.8 L1268.1,1111.2 L1269.5,1112.7 L1270.9,1112.1 L1272.3,1112.3 L1273.7,1112.4 L1275.1,1115.0 L1276.5,1114.9 L1277.9,1117.1 L1279.3,1115.8 L1280.7,1117.4 L1282.1,1118.5 L1283.5,1120.3 L1284.9,1121.1 L1286.3,1119.3 L1287.7,1118.8 L1289.1,1118.2 L1290.5,1120.5 L1291.9,1119.8 L1293.3,1120.4 L1294.7,1122.3 L1296.1,1121.7 L1297.5,1123.3 L1298.9,1125.7 L1300.3,1125.2 L1301.7,1124.5 L1303.1,1123.2 L1304.5,1124.3 L1305.9,1125.6 L1307.3,1124.2 L1308.7,1126.4 L1310.1,1127.3 L1311.5,1128.9 L1312.9,1129.2 L1314.3,1129.2 L1315.7,1128.3 L1317.1,1128.4 L1318.5,1127.6 L1319.9,1127.8 L1321.3,1128.1 L1322.7,1129.1 L1324.1,1128.5 L1325.5,1128.9 L1326.9,1130.3 L1328.3,1129.8 L1329.7,1130.2 L1331.1,1131.4 L1332.5,1131.2 L1333.9,1131.2 L1335.3,1131.5 L1336.7,1130.6 L1338.1,1132.3 L1339.5,1133.4 L1340.9,1133.2 L1342.3,1132.0 L1343.7,1133.8 L1345.1,1133.3 L1346.5,1134.5 L1347.9,1135.5 L1349.3,1135.0 L1350.7,1137.1 L1352.1,1136.0 L1353.5,1136.7 L1354.9,1136.7 L1356.3,1137.7 L1357.7,1138.2 L1359.1,1136.7 L1360.5,1138.2 L1361.9,1136.8 L1363.3,1138.5 L1364.7,1139.8 L1366.1,1140.3 L1367.5,1140.7 L1368.9,1139.3 L1370.3,1139.7 L1371.7,1139.6 L1373.1,1140.7 L1374.5,1141.3 L1375.9,1140.0 L1377.3,1143.2 L1378.7,1140.4 L1380.1,1140.3 L1381.5,1141.7 L1382.9,1142.8 L1384.3,1143.9 L1385.7,1143.9 L1387.1,1146.0 L1388.5,1145.1 L1389.9,1146.3 L1391.3,1146.7 L1392.7,1145.5 L1394.1,1146.5 L1395.5,1147.3 L1396.9,1148.7 L1398.3,1148.9 L1399.7,1149.4 L1401.1,1149.0 L1402.5,1150.4 L1403.9,1151.7 L1405.3,1150.0 L1406.7,1150.9 L1408.1,1151.2 L1409.5,1151.0 L1410.9,1151.3 L1412.3,1153.4 L1413.7,1153.6 L1415.1,1153.9 L1416.5,1153.3 L1417.9,1156.2 L1419.3,1155.7 L1420.7,1155.8 L1422.1,1156.5 L1423.5,1156.7 L1424.9,1158.8 L1426.3,1157.7 L1427.7,1157.8 L1429.1,1156.5 L1430.5,1158.9 L1431.9,1157.9 L1433.3,1158.3 L1434.7,1159.8 L1436.1,1158.9 L1437.5,1160.5 L1438.9,1161.2 L1440.3,1159.9 L1441.7,1161.9 L1443.1,1161.9 L1444.5,1164.1 L1445.9,1166.2 L1447.3,1166.1 L1448.7,1169.5 L1450.1,1168.9 L1451.5,1168.9 L1453.0,1170.1 L1454.4,1171.3 L1455.8,1170.4 L1457.2,1172.3 L1458.6,1172.3 L1460.0,1175.0 L1461.4,1174.7 L1462.8,1174.3 L1464.2,1175.1 L1465.6,1173.6 L1467.0,1174.7 L1468.4,1176.9 L1469.8,1176.4 L1471.2,1178.3 L1472.6,1178.6 L1474.0,1179.3 L1475.4,1180.8 L1476.8,1182.1 L1478.2,1182.5 L1479.6,1182.7 L1481.0,1183.0 L1482.4,1183.0 L1483.8,1184.7 L1485.2,1185.8 L1486.6,1187.2 L1488.0,1186.6 L1489.4,1189.7 L1490.8,1190.4 L1492.2,1190.6 L1493.6,1192.5 L1495.0,1193.4 L1496.4,1193.6 L1497.8,1194.1 L1499.2,1194.7 L1500.6,1195.4 L1502.0,1195.5 L1503.4,1194.9 L1504.8,1196.5 L1506.2,1197.9 L1507.6,1198.0 L1509.0,1199.3 L1510.4,1199.9 L1511.8,1199.9 L1513.2,1201.7 L1514.6,1200.7 L1516.0,1202.9 L1517.4,1203.0 L1518.8,1203.7 L1520.2,1205.0 L1521.6,1204.3 L1523.0,1205.2 L1524.4,1203.8 L1525.8,1204.6 L1527.2,1204.2 L1528.6,1204.8 L1530.0,1205.1 L1531.4,1205.2 L1532.8,1207.2 L1534.2,1206.7 L1535.6,1207.6 L1537.0,1209.7 L1538.4,1210.7 L1539.8,1211.5 L1541.2,1212.1 L1542.6,1214.0 L1544.0,1212.3 L1545.4,1213.2 L1546.8,1213.6 L1548.2,1215.3 L1549.6,1215.3 L1551.0,1216.2 L1552.4,1216.4 L1553.8,1216.0 L1555.2,1216.1 L1556.6,1216.4 L1558.0,1218.9 L1559.4,1218.5 L1560.8,1218.5 L1562.2,1218.0 L1563.6,1218.0 L1565.0,1217.7 L1566.4,1217.6 L1567.8,1216.2 L1569.2,1217.9 L1570.6,1218.2 L1572.0,1219.3 L1573.4,1220.1 L1574.8,1221.2 L1576.2,1221.1 L1577.6,1221.9 L1579.0,1220.0 L1580.4,1221.1 L1581.8,1223.1 L1583.2,1221.6 L1584.6,1222.5 L1586.0,1223.6 L1587.4,1223.1 L1588.8,1224.8 L1590.2,1224.2 L1591.6,1224.4 L1593.0,1225.1 L1594.4,1225.2 L1595.8,1226.6 L1597.2,1226.9 L1598.6,1227.9 L1600.0,1227.7 L1601.4,1230.3 L1602.8,1228.9 L1604.2,1229.2 L1605.6,1229.9 L1607.0,1230.0 L1608.4,1230.3 L1609.8,1231.3 L1611.2,1232.2 L1612.6,1232.4 L1614.0,1232.7 L1615.4,1231.8 L1616.8,1231.7 L1618.2,1233.5 L1619.6,1232.4 L1621.0,1233.3 L1622.4,1233.8 L1623.8,1234.5 L1625.2,1233.1 L1626.6,1233.8 L1628.0,1234.2 L1629.4,1234.7 L1630.8,1233.8 L1632.2,1235.7 L1633.6,1234.5 L1635.0,1236.9 L1636.4,1237.5 L1637.8,1237.8 L1639.2,1236.8 L1640.6,1238.1 L1642.0,1237.1 L1643.4,1237.0 L1644.8,1237.3 L1646.2,1237.5 L1647.6,1238.2 L1649.0,1238.6 L1650.4,1236.9 L1651.8,1238.0 L1653.2,1239.3 L1654.6,1239.5 L1656.0,1240.3 L1657.4,1239.7 L1658.8,1241.5 L1660.2,1240.1 L1661.6,1241.1 L1663.0,1241.8 L1664.4,1242.2 L1665.8,1241.6 L1667.2,1242.1 L1668.6,1241.5 L1670.0,1241.7 L1671.4,1242.7 L1672.8,1242.1 L1674.2,1242.1 L1675.6,1241.6 L1677.0,1242.7 L1678.4,1243.3 L1679.8,1242.8 L1681.2,1243.3 L1682.6,1244.9 L1684.0,1244.4 L1685.4,1244.5 L1686.8,1244.4 L1688.2,1245.1 L1689.6,1245.6 L1691.0,1246.7 L1692.4,1245.6 L1693.8,1247.0 L1695.2,1245.5 L1696.6,1245.8 L1698.0,1246.3 L1699.4,1245.5 L1700.8,1245.0 L1702.2,1245.5 L1703.6,1246.3 L1705.0,1245.6 L1706.4,1246.9 L1707.8,1247.1 L1709.2,1246.9 L1710.6,1247.4 L1712.0,1246.7 L1713.4,1247.1 L1714.8,1247.7 L1716.2,1248.5 L1717.6,1248.2 L1719.0,1249.3 L1720.4,1247.9 L1721.8,1249.1 L1723.2,1247.8 L1724.6,1248.5 L1726.0,1249.2 L1727.4,1250.6 L1728.8,1250.4 L1730.2,1249.9 L1731.6,1251.0 L1733.0,1250.2 L1734.4,1249.8 L1735.8,1250.4 L1737.2,1249.9 L1738.6,1250.1 L1740.0,1249.2 L1741.4,1250.0 L1742.8,1250.6 L1744.2,1251.0 L1745.6,1251.5 L1747.0,1251.6 L1748.4,1252.9 L1749.8,1252.7 L1751.2,1252.9 L1752.6,1252.3 L1754.0,1252.4 L1755.4,1251.8 L1756.8,1252.6 L1758.2,1253.1 L1759.6,1252.7 L1761.0,1253.0 L1762.4,1252.5 L1763.8,1252.9 L1765.2,1251.9 L1766.6,1251.1 L1768.0,1252.5 L1769.4,1252.4 L1770.8,1252.2 L1772.2,1253.4 L1773.6,1253.2 L1775.0,1253.3 L1776.4,1252.8 L1777.8,1253.2 L1779.2,1253.4 L1780.6,1254.4 L1782.0,1253.1 L1783.4,1253.4 L1784.8,1253.4 L1786.2,1251.9 L1787.6,1251.8 L1789.0,1254.2 L1790.4,1252.5 L1791.8,1254.7 L1793.2,1254.8 L1794.6,1255.3 L1796.0,1254.8 L1797.4,1255.4 L1798.8,1256.3 L1800.2,1255.0 L1801.6,1256.0 L1803.0,1255.8 L1804.4,1256.9 L1805.8,1255.9 L1807.2,1257.5 L1808.6,1257.7 L1810.0,1257.3 L1811.4,1256.6 L1812.8,1258.4 L1814.2,1256.8 L1815.6,1257.3 L1817.0,1257.9 L1818.5,1257.9 L1819.9,1256.8 L1821.3,1257.3 L1822.7,1257.3 L1824.1,1258.3 L1825.5,1259.4 L1826.9,1257.3 L1828.3,1259.1 L1829.7,1257.3 L1831.1,1259.2 L1832.5,1258.7 L1833.9,1260.5 L1835.3,1259.5 L1836.7,1259.0 L1838.1,1259.4 L1839.5,1259.8 L1840.9,1260.7 L1842.3,1261.0 L1843.7,1261.8 L1845.1,1262.5 L1846.5,1262.2 L1847.9,1261.2 L1849.3,1260.8 L1850.7,1261.0 L1852.1,1261.7 L1853.5,1260.6 L1854.9,1260.4 L1856.3,1261.1 L1857.7,1260.7 L1859.1,1261.5 L1860.5,1262.9 L1861.9,1262.9 L1863.3,1263.1 L1864.7,1263.8 L1866.1,1263.5 L1867.5,1263.7 L1868.9,1264.1 L1870.3,1265.0 L1871.7,1264.9 L1873.1,1264.3 L1874.5,1264.9 L1875.9,1265.5 L1877.3,1266.3 L1878.7,1264.7 L1880.1,1265.6 L1881.5,1265.4 L1882.9,1266.3 L1884.3,1266.5 L1885.7,1267.4 L1887.1,1267.0 L1888.5,1266.4 L1889.9,1266.3 L1891.3,1267.0 L1892.7,1267.4 L1894.1,1269.0 L1895.5,1269.1 L1896.9,1267.9 L1898.3,1268.8 L1899.7,1267.9 L1901.1,1267.6 L1902.5,1268.8 L1903.9,1268.7 L1905.3,1268.0 L1906.7,1269.8 L1908.1,1268.8 L1909.5,1269.0 L1910.9,1270.4 L1912.3,1270.5 L1913.7,1270.6 L1915.1,1270.9 L1916.5,1271.3 L1917.9,1271.2 L1919.3,1271.3 L1920.7,1270.5 L1922.1,1271.0 L1923.5,1272.4 L1924.9,1272.3 L1926.3,1273.7 L1927.7,1274.8 L1929.1,1274.6 L1930.5,1275.4 L1931.9,1276.8 L1933.3,1276.4 L1934.7,1277.1 L1936.1,1277.0 L1937.5,1276.4 L1938.9,1275.9 L1940.3,1275.5 L1941.7,1275.7 L1943.1,1276.9 L1944.5,1277.3 L1945.9,1277.3 L1947.3,1278.0 L1948.7,1277.4 L1950.1,1278.4 L1951.5,1277.9 L1952.9,1277.9 L1954.3,1278.0 L1955.7,1278.0 L1957.1,1279.4 L1958.5,1277.3 L1959.9,1278.2 L1961.3,1278.8 L1962.7,1278.5 L1964.1,1278.1 L1965.5,1279.4 L1966.9,1278.1 L1968.3,1278.1 L1969.7,1279.1 L1971.1,1278.1 L1972.5,1277.7 L1973.9,1279.3 L1975.3,1279.1 L1976.7,1278.9 L1978.1,1278.1 L1979.5,1278.4 L1980.9,1278.1 L1982.3,1279.9 L1983.7,1280.1 L1985.1,1280.5 L1986.5,1279.3 L1987.9,1280.6 L1989.3,1280.5 L1990.7,1279.9 L1992.1,1279.3 L1993.5,1278.7 L1994.9,1278.6 L1996.3,1279.3 L1997.7,1279.4 L1999.1,1279.5 L2000.5,1279.4" fill="none" stroke="#00ffff" stroke-width="7" stroke-linejoin="round" stroke-linecap="butt" shape-rendering="crispEdges"/>
<path d="M173.0,1303.8 L174.4,1302.9 L175.8,1302.3 L177.2,1300.9 L178.6,1302.0 L180.0,1301.2 L181.4,1300.0 L182.8,1299.6 L184.2,1298.6 L185.6,1297.5 L187.0,1297.5 L188.4,1296.5 L189.8,1296.1 L191.2,1295.4 L192.6,1295.3 L194.0,1294.3 L195.4,1293.8 L196.8,1292.3 L198.2,1291.6 L199.6,1290.2 L201.0,1290.3 L202.4,1289.5 L203.8,1288.8 L205.2,1287.8 L206.6,1285.9 L208.0,1285.2 L209.4,1284.4 L210.8,1281.7 L212.2,1280.6 L213.6,1279.8 L215.0,1280.1 L216.4,1279.1 L217.8,1278.9 L219.2,1278.0 L220.6,1276.9 L222.0,1275.8 L223.4,1274.7 L224.8,1274.4 L226.2,1273.1 L227.6,1273.1 L229.0,1273.1 L230.4,1273.3 L231.8,1271.5 L233.2,1270.7 L234.6,1270.2 L236.0,1270.5 L237.4,1269.8 L238.8,1270.4 L240.2,1268.8 L241.6,1269.9 L243.0,1269.5 L244.4,1267.9 L245.8,1268.2 L247.2,1268.2 L248.6,1267.3 L250.0,1267.4 L251.4,1267.6 L252.8,1266.2 L254.2,1265.6 L255.6,1265.1 L257.0,1265.8 L258.4,1265.5 L259.8,1265.6 L261.2,1265.7 L262.6,1265.9 L264.0,1264.9 L265.4,1264.2 L266.8,1263.4 L268.2,1264.7 L269.6,1264.0 L271.0,1264.6 L272.4,1264.0 L273.8,1263.8 L275.2,1264.6 L276.6,1264.6 L278.0,1264.2 L279.4,1264.4 L280.8,1265.7 L282.2,1265.2 L283.6,1265.5 L285.0,1265.5 L286.4,1265.5 L287.8,1266.3 L289.2,1265.7 L290.6,1265.3 L292.0,1265.7 L293.4,1265.5 L294.8,1266.2 L296.2,1266.8 L297.6,1266.0 L299.0,1267.1 L300.4,1266.4 L301.8,1267.1 L303.2,1267.1 L304.6,1267.8 L306.0,1268.2 L307.4,1268.2 L308.8,1268.3 L310.2,1268.6 L311.6,1268.8 L313.0,1268.7 L314.4,1269.4 L315.8,1269.7 L317.2,1269.9 L318.6,1269.8 L320.0,1270.7 L321.4,1270.1 L322.8,1270.3 L324.2,1271.8 L325.6,1271.0 L327.0,1272.4 L328.4,1272.2 L329.8,1273.3 L331.2,1272.6 L332.6,1273.9 L334.0,1273.5 L335.4,1273.3 L336.8,1274.6 L338.2,1274.5 L339.6,1274.6 L341.0,1274.7 L342.4,1275.4 L343.8,1275.7 L345.2,1276.4 L346.6,1276.6 L348.0,1276.0 L349.4,1275.8 L350.8,1275.3 L352.2,1274.6 L353.6,1274.7 L355.0,1274.8 L356.4,1274.9 L357.8,1274.7 L359.2,1273.3 L360.6,1273.5 L362.0,1272.9 L363.4,1274.2 L364.8,1273.6 L366.2,1274.4 L367.6,1274.3 L369.0,1275.0 L370.4,1276.2 L371.8,1276.7 L373.2,1277.9 L374.6,1277.9 L376.0,1279.6 L377.4,1279.7 L378.8,1281.5 L380.2,1281.2 L381.6,1282.2 L383.0,1281.7 L384.4,1283.1 L385.8,1283.3 L387.2,1284.2 L388.6,1285.1 L390.0,1285.5 L391.4,1286.2 L392.8,1286.6 L394.2,1286.8 L395.6,1286.8 L397.0,1286.7 L398.4,1287.5 L399.8,1288.3 L401.2,1287.9 L402.6,1289.5 L404.0,1289.4 L405.4,1289.8 L406.8,1290.6 L408.2,1290.8 L409.6,1291.0 L411.0,1290.9 L412.4,1291.9 L413.8,1292.4 L415.2,1292.5 L416.6,1293.7 L418.0,1293.9 L419.4,1293.3 L420.8,1294.5 L422.2,1294.4 L423.6,1295.8 L425.0,1296.0 L426.4,1295.7 L427.8,1296.2 L429.2,1296.9 L430.6,1297.1 L432.0,1298.2 L433.4,1298.2 L434.8,1298.2 L436.2,1298.9 L437.6,1298.3 L439.0,1299.7 L440.4,1300.5 L441.8,1300.7 L443.2,1301.1 L444.6,1302.0 L446.0,1302.9 L447.4,1302.5 L448.8,1302.3 L450.2,1303.7 L451.6,1303.1 L453.0,1304.7 L454.4,1304.9 L455.8,1305.9 L457.2,1305.5 L458.6,1306.5 L460.0,1306.5 L461.4,1306.1 L462.8,1306.5 L464.2,1307.7 L465.6,1308.7 L467.0,1308.6 L468.4,1308.8 L469.8,1308.8 L471.2,1309.4 L472.6,1309.6 L474.0,1310.1 L475.4,1310.4 L476.8,1312.0 L478.2,1312.6 L479.6,1311.9 L481.0,1313.2 L482.4,1312.6 L483.8,1312.3 L485.2,1312.0 L486.6,1313.3 L488.0,1313.5 L489.4,1313.4 L490.8,1313.2 L492.2,1314.5 L493.6,1314.3 L495.0,1314.7 L496.4,1316.3 L497.8,1316.4 L499.2,1316.2 L500.6,1315.9 L502.0,1316.4 L503.4,1315.3 L504.8,1316.2 L506.2,1315.8 L507.6,1315.8 L509.0,1315.9 L510.4,1316.9 L511.8,1317.1 L513.2,1317.3 L514.6,1317.7 L516.0,1317.2 L517.4,1317.2 L518.8,1317.1 L520.2,1317.8 L521.6,1318.3 L523.0,1318.1 L524.4,1318.3 L525.8,1317.6 L527.2,1317.6 L528.6,1317.4 L530.0,1317.3 L531.4,1318.7 L532.8,1318.6 L534.2,1318.4 L535.6,1318.7 L537.0,1319.1 L538.4,1318.8 L539.8,1319.5 L541.2,1318.9 L542.6,1319.3 L544.0,1319.1 L545.4,1319.4 L546.8,1319.2 L548.2,1319.3 L549.6,1319.6 L551.0,1319.6 L552.4,1319.4 L553.8,1319.2 L555.2,1319.4 L556.6,1318.9 L558.0,1318.3 L559.4,1318.5 L560.8,1317.9 L562.2,1318.5 L563.6,1318.1 L565.0,1317.2 L566.4,1317.7 L567.8,1317.6 L569.2,1316.2 L570.6,1316.8 L572.0,1316.7 L573.4,1315.8 L574.8,1315.8 L576.2,1315.5 L577.6,1315.8 L579.0,1315.6 L580.4,1316.3 L581.8,1315.1 L583.2,1315.4 L584.6,1314.7 L586.0,1314.4 L587.4,1313.5 L588.8,1312.9 L590.2,1313.0 L591.6,1313.2 L593.0,1313.2 L594.4,1312.5 L595.8,1312.1 L597.2,1311.2 L598.6,1311.6 L600.0,1311.1 L601.4,1309.9 L602.8,1309.6 L604.2,1308.8 L605.6,1309.4 L607.0,1308.8 L608.4,1308.4 L609.8,1308.3 L611.2,1308.1 L612.6,1307.6 L614.0,1307.1 L615.4,1306.9 L616.8,1306.5 L618.2,1307.2 L619.6,1307.7 L621.0,1306.1 L622.4,1306.7 L623.8,1306.7 L625.2,1306.0 L626.6,1306.2 L628.0,1305.3 L629.4,1305.5 L630.8,1304.0 L632.2,1303.4 L633.6,1302.7 L635.0,1301.4 L636.4,1299.8 L637.8,1299.3 L639.2,1298.8 L640.6,1297.6 L642.0,1296.9 L643.4,1295.5 L644.8,1295.0 L646.2,1294.3 L647.6,1293.0 L649.0,1292.9 L650.4,1291.2 L651.8,1290.0 L653.2,1288.8 L654.6,1288.9 L656.0,1287.3 L657.4,1286.6 L658.8,1285.1 L660.2,1284.4 L661.6,1283.2 L663.0,1281.6 L664.4,1281.0 L665.8,1280.3 L667.2,1278.2 L668.6,1278.3 L670.0,1277.0 L671.4,1275.8 L672.8,1274.2 L674.2,1273.3 L675.6,1271.3 L677.0,1270.2 L678.4,1268.1 L679.8,1266.5 L681.2,1264.4 L682.6,1263.0 L684.0,1261.7 L685.4,1258.9 L686.8,1258.2 L688.2,1255.2 L689.6,1253.5 L691.0,1252.8 L692.4,1251.0 L693.8,1249.2 L695.2,1246.1 L696.6,1244.7 L698.0,1242.6 L699.4,1241.0 L700.8,1238.2 L702.2,1236.6 L703.6,1234.0 L705.0,1232.5 L706.4,1230.2 L707.8,1228.4 L709.2,1225.0 L710.6,1222.7 L712.0,1221.2 L713.4,1219.5 L714.8,1216.4 L716.2,1213.7 L717.6,1210.2 L719.0,1207.7 L720.4,1204.1 L721.8,1201.6 L723.2,1197.6 L724.6,1193.7 L726.0,1190.6 L727.4,1186.9 L728.8,1183.1 L730.2,1180.8 L731.6,1176.7 L733.0,1171.7 L734.4,1169.7 L735.8,1165.2 L737.2,1161.2 L738.6,1159.0 L740.0,1155.6 L741.4,1151.8 L742.8,1147.3 L744.2,1144.4 L745.6,1140.3 L747.0,1134.4 L748.4,1132.4 L749.8,1128.5 L751.2,1123.8 L752.6,1119.8 L754.0,1114.6 L755.4,1109.1 L756.8,1104.3 L758.2,1100.6 L759.6,1094.2 L761.0,1090.9 L762.4,1086.4 L763.8,1081.2 L765.2,1076.7 L766.6,1071.4 L768.0,1067.3 L769.4,1063.6 L770.8,1059.5 L772.2,1054.2 L773.6,1052.1 L775.0,1043.9 L776.4,1038.3 L777.8,1031.8 L779.2,1025.7 L780.6,1021.1 L782.0,1013.8 L783.4,1008.2 L784.8,1000.7 L786.2,991.8 L787.6,987.1 L789.0,980.1 L790.4,977.8 L791.8,970.7 L793.2,965.8 L794.6,960.5 L796.0,956.2 L797.4,951.6 L798.8,946.1 L800.2,940.8 L801.6,936.3 L803.0,931.6 L804.4,927.4 L805.8,918.6 L807.2,913.0 L808.6,906.2 L810.0,899.6 L811.4,893.9 L812.8,888.6 L814.2,884.2 L815.6,877.1 L817.0,870.1 L818.4,864.2 L819.8,856.9 L821.2,849.5 L822.6,843.1 L824.0,834.9 L825.4,829.0 L826.8,821.4 L828.2,812.9 L829.6,804.3 L831.0,798.8 L832.4,789.3 L833.8,784.1 L835.2,772.8 L836.6,766.5 L838.0,757.5 L839.4,750.3 L840.8,743.0 L842.2,733.7 L843.6,726.5 L845.0,719.0 L846.4,711.2 L847.8,704.1 L849.2,696.9 L850.6,688.9 L852.0,680.1 L853.4,670.9 L854.8,661.1 L856.2,652.4 L857.6,643.8 L859.0,637.0 L860.4,628.7 L861.8,621.3 L863.2,617.1 L864.6,609.4 L866.0,602.8 L867.4,596.5 L868.8,590.3 L870.2,580.2 L871.6,574.8 L873.0,569.5 L874.4,562.3 L875.8,555.3 L877.2,549.1 L878.6,544.2 L880.0,535.0 L881.4,529.2 L882.8,522.8 L884.2,515.4 L885.6,510.6 L887.0,503.5 L888.4,496.8 L889.8,489.3 L891.2,484.5 L892.6,476.1 L894.0,469.2 L895.4,462.0 L896.8,458.4 L898.2,449.6 L899.6,440.8 L901.0,432.7 L902.4,424.8 L903.8,420.8 L905.2,415.4 L906.6,408.2 L908.0,406.1 L909.4,400.4 L910.8,393.1 L912.2,388.3 L913.6,383.1 L915.0,378.0 L916.4,371.1 L917.8,362.2 L919.2,358.7 L920.6,350.7 L922.0,346.2 L923.4,341.7 L924.8,336.2 L926.2,333.4 L927.6,330.3 L929.0,326.7 L930.4,322.0 L931.8,317.7 L933.2,314.8 L934.6,310.1 L936.0,306.9 L937.4,301.7 L938.8,300.9 L940.2,295.6 L941.6,291.9 L943.0,288.0 L944.4,284.0 L945.8,281.6 L947.2,275.3 L948.6,268.9 L950.0,266.4 L951.4,261.2 L952.8,258.6 L954.2,253.8 L955.6,250.7 L957.0,248.0 L958.4,245.2 L959.8,241.4 L961.2,241.0 L962.6,240.3 L964.0,240.4 L965.4,237.0 L966.8,235.1 L968.2,234.1 L969.6,231.5 L971.0,230.3 L972.4,226.5 L973.8,223.4 L975.2,223.1 L976.6,221.7 L978.0,217.9 L979.4,217.5 L980.8,213.9 L982.2,214.2 L983.6,212.1 L985.0,211.9 L986.4,210.6 L987.8,210.1 L989.2,209.2 L990.6,209.1 L992.0,208.0 L993.4,206.5 L994.8,205.0 L996.2,207.5 L997.6,206.8 L999.0,203.3 L1000.4,203.6 L1001.8,199.9 L1003.2,198.9 L1004.6,199.6 L1006.0,200.9 L1007.4,196.6 L1008.8,196.1 L1010.2,198.7 L1011.6,193.9 L1013.0,197.0 L1014.4,196.4 L1015.8,195.0 L1017.2,194.7 L1018.6,196.9 L1020.0,191.0 L1021.4,191.4 L1022.8,191.7 L1024.2,191.9 L1025.6,192.0 L1027.0,196.3 L1028.4,194.6 L1029.8,191.8 L1031.2,192.8 L1032.6,193.9 L1034.0,193.8 L1035.4,191.4 L1036.8,193.2 L1038.2,193.7 L1039.6,193.8 L1041.0,193.5 L1042.4,190.2 L1043.8,194.6 L1045.2,192.3 L1046.6,194.6 L1048.0,196.6 L1049.4,193.2 L1050.8,192.0 L1052.2,194.6 L1053.6,193.1 L1055.0,192.8 L1056.4,192.6 L1057.8,196.8 L1059.2,194.8 L1060.6,194.4 L1062.0,196.3 L1063.4,195.8 L1064.8,197.7 L1066.2,197.3 L1067.6,197.1 L1069.0,200.1 L1070.4,199.5 L1071.8,202.2 L1073.2,203.8 L1074.6,202.3 L1076.0,202.2 L1077.4,203.3 L1078.8,204.2 L1080.2,203.3 L1081.6,204.1 L1083.0,205.0 L1084.4,206.6 L1085.8,207.8 L1087.2,206.5 L1088.6,207.2 L1090.0,208.5 L1091.4,208.2 L1092.8,209.8 L1094.2,210.6 L1095.6,209.9 L1097.0,209.1 L1098.4,209.0 L1099.8,212.5 L1101.2,211.9 L1102.6,210.2 L1104.0,211.7 L1105.4,216.4 L1106.8,216.9 L1108.2,215.5 L1109.6,216.9 L1111.0,213.6 L1112.4,216.0 L1113.8,218.0 L1115.2,215.9 L1116.6,218.4 L1118.0,221.1 L1119.4,222.0 L1120.8,220.3 L1122.2,222.0 L1123.6,224.3 L1125.0,222.5 L1126.4,222.2 L1127.8,225.1 L1129.2,226.3 L1130.6,230.2 L1132.0,230.3 L1133.4,230.3 L1134.8,235.3 L1136.2,232.3 L1137.6,234.4 L1139.0,235.9 L1140.4,237.6 L1141.8,238.6 L1143.2,240.9 L1144.6,241.6 L1146.0,241.1 L1147.4,243.7 L1148.8,245.3 L1150.2,247.5 L1151.6,250.7 L1153.0,252.6 L1154.4,257.4 L1155.8,259.6 L1157.2,256.5 L1158.6,261.0 L1160.0,261.9 L1161.4,261.3 L1162.8,266.7 L1164.2,266.9 L1165.6,269.0 L1167.0,270.9 L1168.4,275.7 L1169.8,278.5 L1171.2,279.5 L1172.6,281.6 L1174.0,281.8 L1175.4,283.4 L1176.8,284.1 L1178.2,287.4 L1179.6,289.1 L1181.0,293.1 L1182.4,296.3 L1183.8,298.2 L1185.2,301.8 L1186.6,306.0 L1188.0,302.1 L1189.4,306.5 L1190.8,307.5 L1192.2,309.8 L1193.6,311.4 L1195.0,316.4 L1196.4,319.4 L1197.8,322.4 L1199.2,325.9 L1200.6,328.4 L1202.0,328.9 L1203.4,335.6 L1204.8,336.6 L1206.2,338.4 L1207.6,342.6 L1209.0,344.0 L1210.4,344.7 L1211.8,350.9 L1213.2,350.5 L1214.6,355.2 L1216.0,358.7 L1217.4,363.4 L1218.8,366.7 L1220.2,368.9 L1221.6,371.3 L1223.0,375.1 L1224.4,380.4 L1225.8,384.5 L1227.2,386.1 L1228.6,387.5 L1230.0,392.3 L1231.4,393.3 L1232.8,396.2 L1234.2,399.6 L1235.6,404.0 L1237.0,407.0 L1238.4,410.8 L1239.8,413.6 L1241.2,414.8 L1242.6,413.7 L1244.0,417.4 L1245.4,423.1 L1246.8,426.7 L1248.2,433.0 L1249.6,433.5 L1251.0,435.8 L1252.4,439.2 L1253.8,441.4 L1255.2,442.1 L1256.6,445.2 L1258.0,445.9 L1259.4,449.2 L1260.8,455.7 L1262.2,457.5 L1263.6,465.5 L1265.0,470.5 L1266.4,475.4 L1267.8,479.4 L1269.2,482.2 L1270.6,481.9 L1272.0,486.0 L1273.4,489.5 L1274.8,494.2 L1276.2,494.6 L1277.6,497.6 L1279.0,500.5 L1280.4,504.9 L1281.8,504.6 L1283.2,507.8 L1284.6,513.5 L1286.0,514.3 L1287.4,521.4 L1288.8,524.7 L1290.2,527.2 L1291.6,531.5 L1293.0,533.4 L1294.4,537.1 L1295.8,539.7 L1297.2,543.1 L1298.6,543.2 L1300.0,545.0 L1301.4,546.4 L1302.8,549.6 L1304.2,553.8 L1305.6,553.8 L1307.0,559.9 L1308.4,561.9 L1309.8,565.8 L1311.2,569.1 L1312.6,572.4 L1314.0,574.4 L1315.4,576.5 L1316.8,580.1 L1318.2,582.7 L1319.6,585.6 L1321.0,589.3 L1322.4,593.3 L1323.8,595.8 L1325.2,599.1 L1326.6,600.8 L1328.0,605.3 L1329.4,607.1 L1330.8,614.0 L1332.2,616.8 L1333.6,623.7 L1335.0,629.7 L1336.4,629.6 L1337.8,633.8 L1339.2,634.7 L1340.6,635.8 L1342.0,638.0 L1343.4,642.3 L1344.8,646.1 L1346.2,647.6 L1347.6,648.1 L1349.0,651.0 L1350.4,654.4 L1351.8,658.8 L1353.2,660.4 L1354.6,663.0 L1356.0,666.3 L1357.4,667.3 L1358.8,669.9 L1360.2,672.7 L1361.6,674.3 L1363.0,680.0 L1364.4,683.1 L1365.8,686.7 L1367.2,687.2 L1368.6,690.2 L1370.0,694.5 L1371.4,696.5 L1372.8,700.4 L1374.2,701.1 L1375.6,705.1 L1377.0,706.9 L1378.4,710.4 L1379.8,712.0 L1381.2,715.5 L1382.6,718.7 L1384.0,721.3 L1385.4,721.9 L1386.8,727.3 L1388.2,729.0 L1389.6,729.5 L1391.0,731.6 L1392.4,734.5 L1393.8,737.2 L1395.2,738.5 L1396.6,739.8 L1398.0,744.2 L1399.4,746.5 L1400.8,750.8 L1402.2,749.2 L1403.6,754.9 L1405.0,756.3 L1406.4,757.2 L1407.8,760.9 L1409.2,761.6 L1410.6,764.3 L1412.0,764.3 L1413.4,766.8 L1414.8,768.0 L1416.2,770.3 L1417.6,775.0 L1419.0,778.5 L1420.4,783.6 L1421.8,788.0 L1423.2,790.0 L1424.6,793.2 L1426.0,796.0 L1427.4,796.7 L1428.8,800.9 L1430.2,802.7 L1431.6,804.4 L1433.0,804.8 L1434.4,805.2 L1435.8,808.1 L1437.2,810.4 L1438.6,813.5 L1440.0,815.8 L1441.4,818.7 L1442.8,820.2 L1444.2,823.1 L1445.6,824.0 L1447.0,827.1 L1448.4,829.8 L1449.8,833.9 L1451.2,834.2 L1452.6,835.2 L1454.0,839.9 L1455.4,840.2 L1456.8,843.0 L1458.2,844.8 L1459.6,846.2 L1461.0,850.4 L1462.4,852.2 L1463.8,853.8 L1465.2,857.0 L1466.6,858.8 L1468.0,861.7 L1469.4,862.7 L1470.8,864.3 L1472.2,866.4 L1473.6,868.9 L1475.0,872.0 L1476.4,873.5 L1477.8,876.6 L1479.2,879.3 L1480.6,882.8 L1482.0,883.4 L1483.4,882.0 L1484.8,886.4 L1486.2,888.9 L1487.6,891.9 L1489.0,895.2 L1490.4,896.6 L1491.8,895.9 L1493.2,899.6 L1494.6,900.7 L1496.0,902.3 L1497.4,904.9 L1498.8,905.2 L1500.2,909.7 L1501.6,910.1 L1503.0,913.9 L1504.4,916.3 L1505.8,919.8 L1507.2,919.1 L1508.6,920.1 L1510.0,924.3 L1511.4,925.7 L1512.8,930.3 L1514.2,931.3 L1515.6,934.2 L1517.0,939.1 L1518.4,941.6 L1519.8,945.6 L1521.2,946.7 L1522.6,952.1 L1524.0,953.0 L1525.4,956.6 L1526.8,957.4 L1528.2,959.1 L1529.6,962.1 L1531.0,964.4 L1532.4,967.6 L1533.8,969.1 L1535.2,972.2 L1536.6,975.0 L1538.0,979.7 L1539.4,978.9 L1540.8,982.5 L1542.2,983.2 L1543.6,985.3 L1545.0,986.4 L1546.4,989.5 L1547.8,989.4 L1549.2,990.9 L1550.6,993.2 L1552.0,994.0 L1553.4,997.0 L1554.8,999.1 L1556.2,1000.1 L1557.6,1003.6 L1559.0,1004.8 L1560.4,1007.4 L1561.8,1009.5 L1563.2,1012.9 L1564.6,1013.6 L1566.0,1014.9 L1567.4,1016.7 L1568.8,1019.8 L1570.2,1019.1 L1571.6,1021.6 L1573.0,1023.6 L1574.4,1024.2 L1575.8,1027.8 L1577.2,1030.8 L1578.6,1032.2 L1580.0,1033.4 L1581.4,1036.8 L1582.8,1038.8 L1584.2,1041.9 L1585.6,1041.9 L1587.0,1044.3 L1588.4,1046.7 L1589.8,1048.6 L1591.2,1050.4 L1592.6,1051.5 L1594.0,1052.3 L1595.4,1053.1 L1596.8,1055.5 L1598.2,1056.9 L1599.6,1059.5 L1601.0,1062.3 L1602.4,1065.4 L1603.8,1067.8 L1605.2,1068.2 L1606.6,1070.6 L1608.0,1072.2 L1609.4,1073.1 L1610.8,1073.6 L1612.2,1075.1 L1613.6,1078.9 L1615.0,1080.9 L1616.4,1082.4 L1617.8,1083.6 L1619.2,1087.3 L1620.6,1088.9 L1622.0,1089.5 L1623.4,1090.8 L1624.8,1090.9 L1626.2,1094.1 L1627.6,1094.0 L1629.0,1097.3 L1630.4,1099.0 L1631.8,1100.3 L1633.2,1102.8 L1634.6,1103.1 L1636.0,1105.1 L1637.4,1106.6 L1638.8,1107.7 L1640.2,1109.0 L1641.6,1112.1 L1643.0,1113.7 L1644.4,1115.2 L1645.8,1116.8 L1647.2,1118.4 L1648.6,1121.0 L1650.0,1120.8 L1651.4,1121.8 L1652.8,1122.5 L1654.2,1123.7 L1655.6,1124.5 L1657.0,1127.1 L1658.4,1128.4 L1659.8,1129.4 L1661.2,1130.9 L1662.6,1133.5 L1664.0,1135.2 L1665.4,1136.4 L1666.8,1139.0 L1668.2,1140.2 L1669.6,1141.3 L1671.0,1142.9 L1672.4,1143.2 L1673.8,1145.8 L1675.2,1145.6 L1676.6,1147.8 L1678.0,1149.0 L1679.4,1149.6 L1680.8,1151.3 L1682.2,1151.6 L1683.6,1152.8 L1685.0,1154.9 L1686.4,1155.9 L1687.8,1158.2 L1689.2,1159.5 L1690.6,1161.4 L1692.0,1162.5 L1693.4,1163.6 L1694.8,1164.6 L1696.2,1165.4 L1697.6,1166.6 L1699.0,1169.4 L1700.4,1168.5 L1701.8,1170.6 L1703.2,1172.4 L1704.6,1173.2 L1706.0,1175.1 L1707.4,1176.1 L1708.8,1176.5 L1710.2,1178.3 L1711.6,1178.7 L1713.0,1180.9 L1714.4,1182.0 L1715.8,1182.0 L1717.2,1183.8 L1718.6,1184.7 L1720.0,1185.3 L1721.4,1186.7 L1722.8,1186.7 L1724.2,1187.8 L1725.6,1188.9 L1727.0,1190.1 L1728.4,1191.6 L1729.8,1192.1 L1731.2,1193.8 L1732.6,1195.2 L1734.0,1196.3 L1735.4,1195.3 L1736.8,1197.2 L1738.2,1198.8 L1739.6,1198.5 L1741.0,1200.1 L1742.4,1201.3 L1743.8,1200.7 L1745.2,1202.5 L1746.6,1203.9 L1748.0,1205.0 L1749.4,1205.4 L1750.8,1207.8 L1752.2,1208.8 L1753.6,1211.0 L1755.0,1212.0 L1756.4,1212.6 L1757.8,1213.7 L1759.2,1213.9 L1760.6,1214.6 L1762.0,1214.9 L1763.4,1216.7 L1764.8,1218.4 L1766.2,1219.2 L1767.6,1220.2 L1769.0,1220.9 L1770.4,1222.0 L1771.8,1223.7 L1773.2,1223.6 L1774.6,1226.4 L1776.0,1226.2 L1777.4,1228.3 L1778.8,1228.7 L1780.2,1228.6 L1781.6,1230.1 L1783.0,1230.8 L1784.4,1232.1 L1785.8,1233.5 L1787.2,1234.0 L1788.6,1234.9 L1790.0,1235.9 L1791.4,1236.4 L1792.8,1238.0 L1794.2,1239.5 L1795.6,1240.6 L1797.0,1241.6 L1798.4,1242.4 L1799.8,1243.9 L1801.2,1243.5 L1802.6,1245.3 L1804.0,1246.2 L1805.4,1247.6 L1806.8,1248.4 L1808.2,1249.4 L1809.6,1250.0 L1811.0,1251.3 L1812.4,1251.2 L1813.8,1252.3 L1815.2,1251.9 L1816.6,1254.2 L1818.0,1254.6 L1819.4,1254.1 L1820.8,1254.5 L1822.2,1254.5 L1823.6,1255.5 L1825.0,1257.1 L1826.4,1257.7 L1827.8,1257.8 L1829.2,1258.7 L1830.6,1259.1 L1832.0,1260.1 L1833.4,1260.8 L1834.8,1261.1 L1836.2,1261.9 L1837.6,1262.6 L1839.0,1262.3 L1840.4,1264.1 L1841.8,1264.7 L1843.2,1265.8 L1844.6,1265.6 L1846.0,1267.8 L1847.4,1268.3 L1848.8,1269.6 L1850.2,1270.8 L1851.6,1270.4 L1853.0,1271.2 L1854.4,1273.1 L1855.8,1272.9 L1857.2,1273.6 L1858.6,1274.8 L1860.0,1275.0 L1861.4,1276.0 L1862.8,1276.5 L1864.2,1277.1 L1865.6,1278.4 L1867.0,1279.9 L1868.4,1279.8 L1869.8,1281.2 L1871.2,1281.7 L1872.6,1281.8 L1874.0,1282.6 L1875.4,1282.8 L1876.8,1283.8 L1878.2,1285.0 L1879.6,1285.4 L1881.0,1286.3 L1882.4,1285.3 L1883.8,1285.8 L1885.2,1286.0 L1886.6,1286.7 L1888.0,1288.0 L1889.4,1288.0 L1890.8,1289.8 L1892.2,1290.0 L1893.6,1290.8 L1895.0,1291.8 L1896.4,1291.7 L1897.8,1292.6 L1899.2,1292.8 L1900.6,1293.2 L1902.0,1293.6 L1903.4,1293.5 L1904.8,1294.4 L1906.2,1295.3 L1907.6,1295.7 L1909.0,1295.4 L1910.4,1296.7 L1911.8,1297.0 L1913.2,1296.9 L1914.6,1297.7 L1916.0,1298.9 L1917.4,1298.5 L1918.8,1299.3 L1920.2,1299.9 L1921.6,1300.3 L1923.0,1300.7 L1924.4,1301.3 L1925.8,1301.3 L1927.2,1302.0 L1928.6,1303.7 L1930.0,1303.0 L1931.4,1304.0 L1932.8,1304.8 L1934.2,1305.1 L1935.6,1306.3 L1937.0,1306.5 L1938.4,1307.4 L1939.8,1306.7 L1941.2,1308.6 L1942.6,1308.9 L1944.0,1308.5 L1945.4,1309.7 L1946.8,1309.7 L1948.2,1310.3 L1949.6,1310.9 L1951.0,1310.5 L1952.4,1310.4 L1953.8,1311.1 L1955.2,1311.2 L1956.6,1311.8 L1958.0,1312.2 L1959.4,1312.7 L1960.8,1314.0 L1962.2,1314.5 L1963.6,1314.5 L1965.0,1315.7 L1966.4,1315.0 L1967.8,1315.7 L1969.2,1316.3 L1970.6,1317.2 L1972.0,1317.3 L1973.4,1317.3 L1974.8,1317.7 L1976.2,1317.6 L1977.6,1318.0 L1979.0,1317.7 L1980.4,1318.0 L1981.8,1319.1 L1983.2,1320.3 L1984.6,1320.6 L1986.0,1321.3 L1987.4,1321.5 L1988.8,1321.8 L1990.2,1322.4 L1991.6,1322.2 L1993.0,1323.3 L1994.4,1323.0 L1995.8,1323.8 L1997.2,1324.0 L1998.6,1325.3 L2000.0,1325.0" fill="none" stroke="#000000" stroke-width="7" stroke-linejoin="round" stroke-linecap="butt" shape-rendering="crispEdges"/>
<path d="M173.0,1271.4 L174.4,1269.4 L175.8,1272.7 L177.2,1272.1 L178.6,1272.7 L180.0,1273.5 L181.4,1272.2 L182.8,1274.2 L184.2,1273.1 L185.6,1276.4 L187.0,1271.7 L188.4,1269.1 L189.8,1267.2 L191.2,1265.0 L192.6,1263.2 L194.0,1262.8 L195.4,1262.7 L196.8,1260.7 L198.2,1260.4 L199.6,1257.2 L201.0,1255.4 L202.4,1255.0 L203.8,1252.2 L205.2,1249.3 L206.6,1247.7 L208.0,1246.3 L209.4,1245.6 L210.8,1240.9 L212.2,1238.7 L213.6,1238.0 L215.0,1233.7 L216.4,1232.4 L217.8,1231.8 L219.2,1229.3 L220.6,1226.4 L222.0,1224.3 L223.4,1217.1 L224.8,1218.2 L226.2,1210.8 L227.6,1199.9 L229.0,1193.5 L230.4,1188.9 L231.8,1182.7 L233.2,1177.3 L234.6,1174.2 L236.0,1169.4 L237.4,1166.7 L238.8,1161.1 L240.2,1155.3 L241.6,1151.3 L243.0,1144.1 L244.4,1138.0 L245.8,1135.3 L247.2,1130.3 L248.6,1124.0 L250.0,1117.9 L251.4,1114.1 L252.8,1104.3 L254.2,1102.7 L255.6,1095.1 L257.0,1084.2 L258.4,1079.5 L259.8,1071.1 L261.2,1067.2 L262.6,1055.4 L264.0,1047.8 L265.4,1034.3 L266.8,1023.7 L268.2,1010.7 L269.6,1006.6 L271.0,1000.0 L272.4,989.5 L273.8,985.2 L275.2,973.3 L276.6,969.9 L278.0,960.6 L279.4,957.0 L280.8,943.8 L282.2,930.2 L283.6,913.8 L285.0,906.6 L286.4,891.2 L287.8,880.3 L289.2,870.6 L290.6,858.4 L292.0,845.3 L293.4,833.4 L294.8,821.6 L296.2,814.6 L297.6,797.1 L299.0,787.1 L300.4,775.3 L301.8,763.7 L303.2,751.8 L304.6,735.6 L306.0,722.3 L307.4,713.7 L308.8,703.7 L310.2,689.6 L311.6,675.3 L313.0,661.3 L314.4,651.0 L315.8,639.2 L317.2,631.9 L318.6,618.1 L320.0,609.1 L321.4,594.7 L322.8,582.8 L324.2,569.5 L325.6,563.7 L327.0,550.3 L328.4,541.0 L329.8,524.0 L331.2,520.3 L332.6,510.1 L334.0,501.4 L335.4,482.1 L336.8,480.7 L338.2,472.3 L339.6,459.7 L341.0,455.2 L342.4,450.2 L343.8,446.2 L345.2,440.2 L346.6,434.8 L348.0,420.1 L349.4,415.4 L350.8,407.5 L352.2,407.1 L353.6,400.3 L355.0,397.3 L356.5,385.5 L357.9,382.7 L359.3,375.1 L360.7,370.6 L362.1,359.5 L363.5,351.6 L364.9,348.5 L366.3,350.8 L367.7,349.0 L369.1,350.4 L370.5,356.0 L371.9,362.6 L373.3,355.6 L374.7,354.8 L376.1,352.5 L377.5,350.6 L378.9,354.2 L380.3,353.9 L381.7,351.2 L383.1,352.6 L384.5,353.2 L385.9,355.7 L387.3,357.9 L388.7,368.1 L390.1,371.9 L391.5,370.1 L392.9,371.0 L394.3,370.8 L395.7,374.2 L397.1,380.4 L398.5,379.6 L399.9,382.0 L401.3,385.3 L402.7,385.0 L404.1,388.0 L405.5,378.0 L406.9,387.2 L408.3,385.9 L409.7,391.1 L411.1,397.0 L412.5,401.0 L413.9,403.3 L415.3,402.6 L416.7,408.2 L418.1,404.8 L419.5,406.8 L420.9,410.6 L422.3,407.7 L423.7,415.1 L425.1,411.2 L426.5,413.2 L427.9,406.1 L429.3,404.4 L430.7,405.4 L432.1,406.2 L433.5,401.3 L434.9,401.9 L436.3,398.5 L437.7,400.8 L439.1,393.0 L440.5,396.5 L441.9,390.7 L443.3,388.4 L444.7,387.4 L446.1,384.3 L447.5,386.4 L448.9,387.2 L450.3,383.0 L451.7,381.7 L453.1,381.3 L454.5,374.3 L455.9,371.2 L457.3,367.1 L458.7,360.3 L460.1,362.9 L461.5,351.4 L462.9,353.7 L464.3,348.0 L465.7,348.2 L467.1,342.5 L468.5,338.0 L469.9,338.5 L471.3,332.4 L472.7,329.7 L474.1,326.1 L475.5,320.5 L476.9,316.9 L478.3,311.2 L479.7,308.7 L481.1,298.8 L482.5,300.5 L483.9,294.5 L485.3,299.0 L486.7,298.0 L488.1,288.3 L489.5,294.6 L490.9,293.5 L492.3,287.4 L493.7,283.5 L495.1,271.9 L496.5,262.6 L497.9,262.5 L499.3,257.1 L500.7,251.7 L502.1,246.3 L503.5,266.1 L504.9,267.9 L506.3,262.2 L507.7,263.7 L509.1,265.6 L510.5,263.6 L511.9,263.3 L513.3,251.5 L514.7,246.3 L516.1,246.5 L517.5,248.7 L518.9,256.0 L520.3,249.0 L521.7,248.9 L523.1,247.6 L524.5,244.0 L525.9,251.2 L527.3,246.3 L528.7,254.1 L530.1,255.4 L531.5,258.7 L532.9,255.1 L534.3,265.0 L535.7,260.8 L537.1,263.1 L538.5,262.8 L539.9,266.4 L541.3,273.2 L542.7,276.8 L544.1,278.5 L545.5,281.9 L546.9,281.7 L548.3,280.6 L549.7,284.8 L551.1,288.2 L552.5,293.4 L553.9,304.5 L555.3,311.8 L556.7,312.7 L558.1,314.0 L559.5,320.1 L560.9,327.4 L562.3,326.6 L563.7,332.8 L565.1,338.7 L566.5,348.4 L567.9,346.9 L569.3,360.8 L570.7,371.5 L572.1,375.3 L573.5,390.4 L574.9,395.7 L576.3,399.7 L577.7,408.0 L579.1,408.4 L580.5,414.7 L581.9,423.9 L583.3,419.7 L584.7,431.8 L586.1,432.6 L587.5,441.5 L588.9,444.2 L590.3,442.7 L591.7,452.7 L593.1,461.8 L594.5,466.0 L595.9,472.5 L597.3,482.8 L598.7,484.9 L600.1,486.6 L601.5,494.1 L602.9,504.4 L604.3,508.9 L605.7,521.6 L607.1,532.5 L608.5,537.9 L609.9,544.5 L611.3,553.4 L612.7,565.1 L614.1,575.2 L615.5,581.2 L616.9,589.2 L618.3,593.2 L619.7,600.3 L621.1,602.9 L622.5,607.4 L623.9,609.6 L625.3,614.1 L626.7,622.3 L628.1,626.4 L629.5,632.1 L630.9,640.8 L632.3,643.0 L633.7,653.6 L635.1,652.1 L636.5,651.5 L637.9,658.0 L639.3,660.4 L640.7,661.4 L642.1,669.4 L643.5,669.2 L644.9,668.7 L646.3,682.6 L647.7,683.6 L649.1,691.6 L650.5,688.8 L651.9,689.4 L653.3,698.3 L654.7,695.9 L656.1,702.9 L657.5,709.6 L658.9,709.6 L660.3,711.3 L661.7,713.8 L663.1,718.1 L664.5,717.5 L665.9,724.1 L667.3,727.4 L668.7,734.5 L670.1,731.9 L671.5,734.4 L672.9,741.8 L674.3,742.4 L675.7,746.3 L677.1,747.7 L678.5,751.6 L679.9,749.0 L681.3,751.2 L682.7,746.0 L684.1,749.2 L685.5,753.7 L686.9,748.5 L688.3,749.6 L689.7,751.3 L691.1,759.2 L692.5,762.1 L693.9,762.1 L695.3,768.7 L696.7,770.2 L698.1,773.8 L699.5,773.0 L700.9,780.2 L702.3,779.6 L703.7,781.6 L705.1,784.5 L706.5,788.7 L707.9,794.0 L709.3,793.8 L710.7,799.0 L712.1,800.8 L713.5,805.9 L714.9,808.0 L716.3,808.4 L717.7,805.7 L719.1,811.1 L720.5,813.0 L722.0,812.7 L723.4,814.4 L724.8,813.1 L726.2,814.2 L727.6,814.3 L729.0,820.9 L730.4,820.2 L731.8,820.5 L733.2,820.1 L734.6,823.7 L736.0,828.0 L737.4,826.9 L738.8,825.9 L740.2,832.3 L741.6,835.0 L743.0,837.1 L744.4,839.9 L745.8,843.9 L747.2,845.8 L748.6,849.7 L750.0,849.8 L751.4,857.5 L752.8,857.8 L754.2,864.1 L755.6,858.7 L757.0,867.1 L758.4,870.6 L759.8,870.9 L761.2,875.5 L762.6,879.1 L764.0,881.6 L765.4,882.1 L766.8,885.3 L768.2,889.6 L769.6,891.8 L771.0,891.4 L772.4,893.9 L773.8,897.5 L775.2,903.1 L776.6,903.3 L778.0,906.9 L779.4,913.6 L780.8,914.6 L782.2,918.5 L783.6,922.2 L785.0,924.9 L786.4,923.8 L787.8,929.5 L789.2,926.9 L790.6,933.7 L792.0,932.2 L793.4,935.3 L794.8,941.5 L796.2,941.9 L797.6,943.3 L799.0,945.9 L800.4,949.5 L801.8,950.3 L803.2,952.0 L804.6,955.8 L806.0,954.7 L807.4,957.7 L808.8,960.4 L810.2,966.5 L811.6,969.3 L813.0,972.9 L814.4,973.3 L815.8,975.5 L817.2,979.4 L818.6,979.2 L820.0,983.2 L821.4,984.4 L822.8,983.0 L824.2,985.1 L825.6,986.4 L827.0,991.7 L828.4,995.8 L829.8,994.1 L831.2,997.7 L832.6,996.9 L834.0,1004.0 L835.4,1005.6 L836.8,1005.1 L838.2,1009.4 L839.6,1006.6 L841.0,1010.7 L842.4,1013.8 L843.8,1014.4 L845.2,1021.7 L846.6,1025.7 L848.0,1024.7 L849.4,1026.8 L850.8,1031.7 L852.2,1032.0 L853.6,1031.5 L855.0,1034.6 L856.4,1036.8 L857.8,1039.4 L859.2,1045.2 L860.6,1049.9 L862.0,1058.1 L863.4,1063.0 L864.8,1066.5 L866.2,1071.3 L867.6,1076.5 L869.0,1080.6 L870.4,1082.1 L871.8,1089.1 L873.2,1090.8 L874.6,1095.4 L876.0,1095.1 L877.4,1098.0 L878.8,1100.5 L880.2,1105.8 L881.6,1107.0 L883.0,1109.8 L884.4,1113.9 L885.8,1115.9 L887.2,1119.9 L888.6,1122.6 L890.0,1125.6 L891.4,1130.0 L892.8,1128.2 L894.2,1130.0 L895.6,1130.6 L897.0,1132.7 L898.4,1130.8 L899.8,1132.7 L901.2,1135.3 L902.6,1138.2 L904.0,1139.2 L905.4,1140.1 L906.8,1141.0 L908.2,1144.1 L909.6,1146.5 L911.0,1146.1 L912.4,1147.4 L913.8,1149.9 L915.2,1150.7 L916.6,1154.6 L918.0,1157.5 L919.4,1160.5 L920.8,1161.9 L922.2,1161.9 L923.6,1166.6 L925.0,1168.4 L926.4,1166.0 L927.8,1167.0 L929.2,1167.1 L930.6,1168.6 L932.0,1166.8 L933.4,1172.4 L934.8,1170.9 L936.2,1174.6 L937.6,1174.5 L939.0,1175.5 L940.4,1177.2 L941.8,1179.6 L943.2,1178.0 L944.6,1179.5 L946.0,1180.5 L947.4,1180.3 L948.8,1185.7 L950.2,1186.4 L951.6,1187.3 L953.0,1190.8 L954.4,1190.2 L955.8,1193.5 L957.2,1197.3 L958.6,1197.0 L960.0,1193.1 L961.4,1192.0 L962.8,1195.9 L964.2,1200.2 L965.6,1200.3 L967.0,1202.6 L968.4,1205.0 L969.8,1204.2 L971.2,1206.6 L972.6,1208.4 L974.0,1209.2 L975.4,1210.3 L976.8,1210.2 L978.2,1212.9 L979.6,1213.6 L981.0,1218.0 L982.4,1222.2 L983.8,1220.5 L985.2,1220.6 L986.6,1223.9 L988.0,1225.9 L989.4,1227.9 L990.8,1229.2 L992.2,1228.5 L993.6,1230.2 L995.0,1234.4 L996.4,1233.4 L997.8,1237.4 L999.2,1237.1 L1000.6,1239.4 L1002.0,1240.5 L1003.4,1242.0 L1004.8,1243.5 L1006.2,1242.8 L1007.6,1245.5 L1009.0,1246.3 L1010.4,1247.8 L1011.8,1249.8 L1013.2,1249.0 L1014.6,1249.4 L1016.0,1250.4 L1017.4,1252.0 L1018.8,1254.1 L1020.2,1253.0 L1021.6,1255.3 L1023.0,1254.1 L1024.4,1253.3 L1025.8,1252.0 L1027.2,1254.0 L1028.6,1255.2 L1030.0,1253.6 L1031.4,1258.1 L1032.8,1260.1 L1034.2,1260.2 L1035.6,1261.7 L1037.0,1264.9 L1038.4,1264.8 L1039.8,1263.4 L1041.2,1264.9 L1042.6,1264.9 L1044.0,1265.0 L1045.4,1263.0 L1046.8,1267.0 L1048.2,1266.9 L1049.6,1269.3 L1051.0,1270.5 L1052.4,1272.6 L1053.8,1272.3 L1055.2,1272.5 L1056.6,1274.7 L1058.0,1276.5 L1059.4,1275.9 L1060.8,1278.8 L1062.2,1279.1 L1063.6,1279.9 L1065.0,1283.4 L1066.4,1282.5 L1067.8,1285.5 L1069.2,1285.1 L1070.6,1287.1 L1072.0,1286.7 L1073.4,1288.2 L1074.8,1290.9 L1076.2,1290.8 L1077.6,1291.1 L1079.0,1291.0 L1080.4,1292.3 L1081.8,1291.2 L1083.2,1292.2 L1084.6,1293.9 L1086.0,1294.0 L1087.5,1294.8 L1088.9,1296.4 L1090.3,1297.5 L1091.7,1298.6 L1093.1,1301.5 L1094.5,1302.1 L1095.9,1303.4 L1097.3,1303.2 L1098.7,1303.1 L1100.1,1302.2 L1101.5,1303.0 L1102.9,1301.5 L1104.3,1303.2 L1105.7,1304.9 L1107.1,1306.1 L1108.5,1306.0 L1109.9,1304.9 L1111.3,1306.7 L1112.7,1306.1 L1114.1,1307.9 L1115.5,1307.4 L1116.9,1308.5 L1118.3,1310.6 L1119.7,1310.1 L1121.1,1312.5 L1122.5,1311.7 L1123.9,1312.0 L1125.3,1313.8 L1126.7,1314.5 L1128.1,1313.0 L1129.5,1314.2 L1130.9,1313.7 L1132.3,1315.4 L1133.7,1316.9 L1135.1,1316.7 L1136.5,1317.0 L1137.9,1316.9 L1139.3,1318.8 L1140.7,1319.6 L1142.1,1319.8 L1143.5,1320.1 L1144.9,1319.5 L1146.3,1322.7 L1147.7,1322.0 L1149.1,1322.6 L1150.5,1324.0 L1151.9,1322.3 L1153.3,1324.6 L1154.7,1325.2 L1156.1,1326.3 L1157.5,1327.8 L1158.9,1327.7 L1160.3,1326.3 L1161.7,1327.6 L1163.1,1328.2 L1164.5,1328.3 L1165.9,1327.2 L1167.3,1326.9 L1168.7,1328.4 L1170.1,1328.1 L1171.5,1328.0 L1172.9,1327.3 L1174.3,1330.7 L1175.7,1328.1 L1177.1,1330.8 L1178.5,1333.2 L1179.9,1332.0 L1181.3,1332.7 L1182.7,1332.0 L1184.1,1334.2 L1185.5,1332.4 L1186.9,1333.6 L1188.3,1333.5 L1189.7,1332.9 L1191.1,1334.7 L1192.5,1333.7 L1193.9,1335.1 L1195.3,1336.6 L1196.7,1337.3 L1198.1,1338.7 L1199.5,1339.5 L1200.9,1338.8 L1202.3,1338.8 L1203.7,1338.9 L1205.1,1339.2 L1206.5,1340.2 L1207.9,1339.6 L1209.3,1340.1 L1210.7,1339.9 L1212.1,1339.5 L1213.5,1341.1 L1214.9,1340.2 L1216.3,1341.4 L1217.7,1342.7 L1219.1,1341.0 L1220.5,1341.6 L1221.9,1340.4 L1223.3,1341.1 L1224.7,1340.4 L1226.1,1341.3 L1227.5,1341.4 L1228.9,1342.1 L1230.3,1343.3 L1231.7,1342.6 L1233.1,1342.9 L1234.5,1342.5 L1235.9,1342.5 L1237.3,1342.2 L1238.7,1341.8 L1240.1,1343.3 L1241.5,1344.5 L1242.9,1343.9 L1244.3,1343.5 L1245.7,1345.3 L1247.1,1344.3 L1248.5,1344.3 L1249.9,1344.0 L1251.3,1344.3 L1252.7,1344.9 L1254.1,1346.5 L1255.5,1345.0 L1256.9,1344.2 L1258.3,1344.2 L1259.7,1344.3 L1261.1,1343.6 L1262.5,1345.4 L1263.9,1346.5 L1265.3,1347.2 L1266.7,1348.3 L1268.1,1347.9 L1269.5,1348.2 L1270.9,1350.5 L1272.3,1350.6 L1273.7,1348.8 L1275.1,1349.6 L1276.5,1349.0 L1277.9,1348.8 L1279.3,1348.2 L1280.7,1347.5 L1282.1,1348.0 L1283.5,1348.3 L1284.9,1348.6 L1286.3,1347.9 L1287.7,1347.5 L1289.1,1349.0 L1290.5,1348.4 L1291.9,1349.5 L1293.3,1349.8 L1294.7,1349.7 L1296.1,1349.6 L1297.5,1350.2 L1298.9,1351.1 L1300.3,1350.1 L1301.7,1351.2 L1303.1,1351.3 L1304.5,1351.1 L1305.9,1352.1 L1307.3,1350.9 L1308.7,1352.2 L1310.1,1351.3 L1311.5,1351.7 L1312.9,1351.6 L1314.3,1352.4 L1315.7,1351.5 L1317.1,1352.3 L1318.5,1351.8 L1319.9,1353.5 L1321.3,1354.1 L1322.7,1353.0 L1324.1,1353.6 L1325.5,1352.7 L1326.9,1353.6 L1328.3,1352.4 L1329.7,1351.5 L1331.1,1353.3 L1332.5,1352.4 L1333.9,1352.1 L1335.3,1352.8 L1336.7,1352.7 L1338.1,1354.1 L1339.5,1353.9 L1340.9,1355.7 L1342.3,1355.6 L1343.7,1354.7 L1345.1,1355.1 L1346.5,1355.9 L1347.9,1355.1 L1349.3,1356.3 L1350.7,1356.3 L1352.1,1355.9 L1353.5,1355.8 L1354.9,1356.1 L1356.3,1356.6 L1357.7,1357.0 L1359.1,1357.0 L1360.5,1358.4 L1361.9,1358.1 L1363.3,1359.1 L1364.7,1358.3 L1366.1,1359.2 L1367.5,1358.1 L1368.9,1358.3 L1370.3,1359.0 L1371.7,1359.4 L1373.1,1358.4 L1374.5,1358.9 L1375.9,1359.1 L1377.3,1358.9 L1378.7,1358.1 L1380.1,1358.6 L1381.5,1358.7 L1382.9,1360.0 L1384.3,1360.1 L1385.7,1359.6 L1387.1,1359.5 L1388.5,1360.9 L1389.9,1361.4 L1391.3,1360.7 L1392.7,1361.0 L1394.1,1360.0 L1395.5,1359.3 L1396.9,1360.3 L1398.3,1359.9 L1399.7,1360.4 L1401.1,1359.6 L1402.5,1360.7 L1403.9,1360.5 L1405.3,1361.4 L1406.7,1360.9 L1408.1,1361.2 L1409.5,1361.5 L1410.9,1362.8 L1412.3,1362.5 L1413.7,1362.2 L1415.1,1362.2 L1416.5,1362.2 L1417.9,1363.4 L1419.3,1361.6 L1420.7,1362.1 L1422.1,1363.1 L1423.5,1363.5 L1424.9,1362.9 L1426.3,1363.4 L1427.7,1363.3 L1429.1,1363.2 L1430.5,1362.7 L1431.9,1363.5 L1433.3,1362.8 L1434.7,1363.7 L1436.1,1362.5 L1437.5,1363.7 L1438.9,1362.4 L1440.3,1361.8 L1441.7,1362.4 L1443.1,1361.4 L1444.5,1362.1 L1445.9,1361.6 L1447.3,1363.4 L1448.7,1362.9 L1450.1,1362.8 L1451.5,1363.9 L1453.0,1364.6 L1454.4,1363.8 L1455.8,1364.5 L1457.2,1365.1 L1458.6,1364.4 L1460.0,1363.9 L1461.4,1363.5 L1462.8,1364.0 L1464.2,1362.9 L1465.6,1362.1 L1467.0,1363.6 L1468.4,1363.5 L1469.8,1365.0 L1471.2,1363.9 L1472.6,1363.1 L1474.0,1362.9 L1475.4,1363.9 L1476.8,1363.6 L1478.2,1364.3 L1479.6,1365.0 L1481.0,1365.4 L1482.4,1365.4 L1483.8,1365.4 L1485.2,1365.9 L1486.6,1366.1 L1488.0,1364.2 L1489.4,1366.3 L1490.8,1365.0 L1492.2,1365.5 L1493.6,1364.4 L1495.0,1364.8 L1496.4,1364.6 L1497.8,1364.6 L1499.2,1365.0 L1500.6,1364.9 L1502.0,1364.0 L1503.4,1364.4 L1504.8,1364.8 L1506.2,1364.8 L1507.6,1364.1 L1509.0,1363.9 L1510.4,1363.5 L1511.8,1362.7 L1513.2,1362.4 L1514.6,1364.0 L1516.0,1363.3 L1517.4,1364.0 L1518.8,1363.8 L1520.2,1365.0 L1521.6,1365.4 L1523.0,1364.5 L1524.4,1365.1 L1525.8,1364.6 L1527.2,1366.0 L1528.6,1365.7 L1530.0,1365.0 L1531.4,1366.2 L1532.8,1366.0 L1534.2,1366.1 L1535.6,1366.0 L1537.0,1365.2 L1538.4,1365.1 L1539.8,1365.5 L1541.2,1365.1 L1542.6,1364.6 L1544.0,1366.0 L1545.4,1364.8 L1546.8,1364.8 L1548.2,1364.9 L1549.6,1366.0 L1551.0,1366.5 L1552.4,1366.3 L1553.8,1366.5 L1555.2,1365.0 L1556.6,1365.2 L1558.0,1365.0 L1559.4,1365.3 L1560.8,1365.6 L1562.2,1364.5 L1563.6,1367.1 L1565.0,1365.1 L1566.4,1365.7 L1567.8,1366.0 L1569.2,1366.0 L1570.6,1365.7 L1572.0,1364.1 L1573.4,1365.0 L1574.8,1365.9 L1576.2,1365.3 L1577.6,1365.6 L1579.0,1365.3 L1580.4,1367.2 L1581.8,1366.8 L1583.2,1366.0 L1584.6,1366.3 L1586.0,1366.6 L1587.4,1366.3 L1588.8,1367.0 L1590.2,1367.3 L1591.6,1367.3 L1593.0,1367.6 L1594.4,1366.9 L1595.8,1366.7 L1597.2,1367.1 L1598.6,1366.5 L1600.0,1366.1 L1601.4,1367.1 L1602.8,1366.3 L1604.2,1366.6 L1605.6,1367.0 L1607.0,1366.2 L1608.4,1367.0 L1609.8,1366.8 L1611.2,1366.3 L1612.6,1366.4 L1614.0,1365.8 L1615.4,1365.2 L1616.8,1366.3 L1618.2,1366.3 L1619.6,1367.6 L1621.0,1367.6 L1622.4,1367.4 L1623.8,1367.8 L1625.2,1368.4 L1626.6,1368.4 L1628.0,1368.2 L1629.4,1368.5 L1630.8,1368.3 L1632.2,1368.3 L1633.6,1368.4 L1635.0,1367.7 L1636.4,1367.7 L1637.8,1366.9 L1639.2,1366.7 L1640.6,1366.8 L1642.0,1367.6 L1643.4,1368.7 L1644.8,1368.9 L1646.2,1368.1 L1647.6,1368.0 L1649.0,1369.2 L1650.4,1369.1 L1651.8,1368.3 L1653.2,1369.4 L1654.6,1369.0 L1656.0,1369.5 L1657.4,1369.1 L1658.8,1369.4 L1660.2,1369.1 L1661.6,1368.3 L1663.0,1368.3 L1664.4,1367.8 L1665.8,1368.3 L1667.2,1367.5 L1668.6,1367.6 L1670.0,1369.0 L1671.4,1369.4 L1672.8,1369.5 L1674.2,1369.1 L1675.6,1367.6 L1677.0,1367.9 L1678.4,1368.1 L1679.8,1368.7 L1681.2,1368.1 L1682.6,1369.4 L1684.0,1369.6 L1685.4,1368.7 L1686.8,1368.8 L1688.2,1369.0 L1689.6,1368.2 L1691.0,1368.7 L1692.4,1368.9 L1693.8,1369.0 L1695.2,1369.2 L1696.6,1368.9 L1698.0,1369.6 L1699.4,1368.8 L1700.8,1368.8 L1702.2,1369.7 L1703.6,1369.2 L1705.0,1369.7 L1706.4,1369.9 L1707.8,1369.3 L1709.2,1369.2 L1710.6,1369.6 L1712.0,1369.4 L1713.4,1368.2 L1714.8,1368.2 L1716.2,1369.2 L1717.6,1368.7 L1719.0,1367.6 L1720.4,1368.2 L1721.8,1369.1 L1723.2,1368.8 L1724.6,1369.5 L1726.0,1369.1 L1727.4,1369.0 L1728.8,1368.0 L1730.2,1368.8 L1731.6,1369.5 L1733.0,1368.3 L1734.4,1369.4 L1735.8,1369.3 L1737.2,1369.2 L1738.6,1368.9 L1740.0,1368.5 L1741.4,1368.8 L1742.8,1369.7 L1744.2,1369.8 L1745.6,1369.8 L1747.0,1369.5 L1748.4,1369.2 L1749.8,1368.2 L1751.2,1367.5 L1752.6,1367.9 L1754.0,1368.0 L1755.4,1368.0 L1756.8,1367.7 L1758.2,1368.8 L1759.6,1368.9 L1761.0,1370.0 L1762.4,1369.5 L1763.8,1369.7 L1765.2,1369.8 L1766.6,1369.7 L1768.0,1370.3 L1769.4,1369.3 L1770.8,1368.8 L1772.2,1370.1 L1773.6,1370.0 L1775.0,1369.8 L1776.4,1369.1 L1777.8,1369.2 L1779.2,1369.1 L1780.6,1368.4 L1782.0,1368.8 L1783.4,1369.2 L1784.8,1368.7 L1786.2,1369.8 L1787.6,1368.1 L1789.0,1368.7 L1790.4,1369.6 L1791.8,1369.1 L1793.2,1369.0 L1794.6,1368.9 L1796.0,1369.1 L1797.4,1370.1 L1798.8,1369.5 L1800.2,1369.5 L1801.6,1368.8 L1803.0,1369.3 L1804.4,1368.8 L1805.8,1368.5 L1807.2,1368.9 L1808.6,1369.5 L1810.0,1370.1 L1811.4,1369.5 L1812.8,1369.6 L1814.2,1370.2 L1815.6,1368.7 L1817.0,1368.5 L1818.5,1369.4 L1819.9,1369.1 L1821.3,1368.7 L1822.7,1368.8 L1824.1,1368.3 L1825.5,1368.7 L1826.9,1368.4 L1828.3,1369.1 L1829.7,1368.5 L1831.1,1369.0 L1832.5,1369.6 L1833.9,1369.4 L1835.3,1370.0 L1836.7,1369.7 L1838.1,1369.6 L1839.5,1370.2 L1840.9,1369.9 L1842.3,1369.3 L1843.7,1369.2 L1845.1,1368.9 L1846.5,1368.6 L1847.9,1368.6 L1849.3,1368.8 L1850.7,1368.7 L1852.1,1369.4 L1853.5,1369.2 L1854.9,1368.5 L1856.3,1369.2 L1857.7,1368.8 L1859.1,1367.9 L1860.5,1368.4 L1861.9,1369.0 L1863.3,1368.7 L1864.7,1369.2 L1866.1,1368.9 L1867.5,1369.0 L1868.9,1368.6 L1870.3,1369.0 L1871.7,1368.6 L1873.1,1368.9 L1874.5,1367.5 L1875.9,1368.4 L1877.3,1368.9 L1878.7,1368.7 L1880.1,1368.7 L1881.5,1369.2 L1882.9,1368.7 L1884.3,1368.9 L1885.7,1369.2 L1887.1,1369.4 L1888.5,1370.0 L1889.9,1369.4 L1891.3,1370.5 L1892.7,1369.4 L1894.1,1369.7 L1895.5,1369.8 L1896.9,1370.1 L1898.3,1369.2 L1899.7,1368.5 L1901.1,1369.9 L1902.5,1370.0 L1903.9,1369.7 L1905.3,1369.8 L1906.7,1370.0 L1908.1,1370.3 L1909.5,1370.6 L1910.9,1369.6 L1912.3,1371.5 L1913.7,1370.6 L1915.1,1370.7 L1916.5,1371.4 L1917.9,1371.2 L1919.3,1372.2 L1920.7,1371.4 L1922.1,1370.5 L1923.5,1370.4 L1924.9,1370.5 L1926.3,1370.8 L1927.7,1371.4 L1929.1,1370.7 L1930.5,1371.5 L1931.9,1370.3 L1933.3,1370.0 L1934.7,1370.4 L1936.1,1369.1 L1937.5,1369.6 L1938.9,1370.2 L1940.3,1369.9 L1941.7,1369.9 L1943.1,1370.2 L1944.5,1369.9 L1945.9,1370.2 L1947.3,1369.7 L1948.7,1369.4 L1950.1,1370.7 L1951.5,1369.5 L1952.9,1369.5 L1954.3,1370.4 L1955.7,1370.3 L1957.1,1369.6 L1958.5,1369.7 L1959.9,1370.0 L1961.3,1369.8 L1962.7,1370.8 L1964.1,1370.8 L1965.5,1370.8 L1966.9,1371.1 L1968.3,1371.1 L1969.7,1371.7 L1971.1,1371.5 L1972.5,1369.8 L1973.9,1370.6 L1975.3,1369.4 L1976.7,1369.2 L1978.1,1370.3 L1979.5,1369.8 L1980.9,1370.1 L1982.3,1370.8 L1983.7,1370.0 L1985.1,1369.9 L1986.5,1370.4 L1987.9,1370.9 L1989.3,1370.8 L1990.7,1370.1 L1992.1,1370.7 L1993.5,1371.0 L1994.9,1372.1 L1996.3,1371.6 L1997.7,1371.5 L1999.1,1371.5 L2000.5,1370.5" fill="none" stroke="#ff0000" stroke-width="7" stroke-linejoin="round" stroke-linecap="butt" shape-rendering="crispEdges"/>
<path d="M173.0,1196.9 L174.4,1197.8 L175.8,1199.6 L177.2,1199.7 L178.6,1198.9 L180.0,1200.2 L181.4,1200.4 L182.8,1201.6 L184.2,1201.6 L185.6,1203.7 L187.0,1204.7 L188.4,1206.2 L189.8,1206.1 L191.2,1206.6 L192.6,1205.9 L194.0,1208.2 L195.4,1206.3 L196.8,1208.2 L198.2,1207.7 L199.6,1207.6 L201.0,1207.8 L202.4,1207.7 L203.8,1207.9 L205.2,1207.1 L206.6,1207.3 L208.0,1204.7 L209.4,1204.9 L210.8,1203.6 L212.2,1203.6 L213.6,1201.2 L215.0,1201.3 L216.4,1200.6 L217.8,1198.4 L219.2,1198.5 L220.6,1196.6 L222.0,1195.6 L223.4,1194.1 L224.8,1191.4 L226.2,1189.8 L227.6,1188.2 L229.0,1186.8 L230.4,1184.9 L231.8,1182.3 L233.2,1180.6 L234.6,1178.9 L236.0,1177.2 L237.4,1175.6 L238.8,1173.6 L240.2,1172.9 L241.6,1169.3 L243.0,1167.5 L244.4,1166.1 L245.8,1163.5 L247.2,1161.9 L248.6,1160.0 L250.0,1158.0 L251.4,1154.1 L252.8,1153.0 L254.2,1149.0 L255.6,1146.3 L257.0,1143.5 L258.4,1140.0 L259.8,1136.9 L261.2,1133.0 L262.6,1129.4 L264.0,1126.0 L265.4,1121.2 L266.8,1118.6 L268.2,1113.3 L269.6,1109.0 L271.0,1107.2 L272.4,1101.7 L273.8,1096.8 L275.2,1094.4 L276.6,1088.2 L278.0,1084.1 L279.4,1077.4 L280.8,1072.3 L282.2,1065.8 L283.6,1060.1 L285.0,1055.3 L286.4,1050.6 L287.8,1046.0 L289.2,1042.1 L290.6,1034.3 L292.0,1030.2 L293.4,1023.0 L294.8,1017.4 L296.2,1010.6 L297.6,1005.1 L299.0,1000.4 L300.4,995.1 L301.8,991.1 L303.2,985.7 L304.6,982.3 L306.0,976.7 L307.4,972.1 L308.8,968.3 L310.2,963.2 L311.6,957.8 L313.0,952.7 L314.4,947.4 L315.8,942.9 L317.2,937.2 L318.6,931.3 L320.0,926.0 L321.4,919.3 L322.8,914.7 L324.2,907.5 L325.6,904.3 L327.0,897.7 L328.4,892.3 L329.8,887.2 L331.2,881.4 L332.6,875.9 L334.0,872.1 L335.4,866.2 L336.8,860.2 L338.2,856.4 L339.6,849.5 L341.0,847.3 L342.4,840.1 L343.8,834.4 L345.2,830.5 L346.6,824.9 L348.0,818.1 L349.4,814.4 L350.8,811.2 L352.2,808.4 L353.6,803.3 L355.0,799.9 L356.5,796.9 L357.9,791.9 L359.3,788.0 L360.7,783.3 L362.1,777.1 L363.5,773.0 L364.9,767.3 L366.3,766.2 L367.7,764.9 L369.1,760.1 L370.5,760.1 L371.9,757.9 L373.3,754.9 L374.7,753.1 L376.1,751.2 L377.5,748.1 L378.9,746.4 L380.3,744.4 L381.7,742.9 L383.1,740.9 L384.5,736.9 L385.9,735.6 L387.3,731.0 L388.7,728.4 L390.1,725.6 L391.5,721.9 L392.9,718.6 L394.3,716.0 L395.7,712.4 L397.1,709.6 L398.5,707.2 L399.9,705.2 L401.3,700.6 L402.7,698.8 L404.1,693.4 L405.5,687.0 L406.9,686.6 L408.3,685.9 L409.7,681.1 L411.1,677.1 L412.5,672.7 L413.9,670.7 L415.3,665.8 L416.7,660.6 L418.1,654.9 L419.5,650.0 L420.9,642.9 L422.3,634.0 L423.7,629.2 L425.1,621.7 L426.5,614.1 L427.9,607.4 L429.3,599.0 L430.7,588.7 L432.1,587.0 L433.5,581.0 L434.9,575.0 L436.3,570.3 L437.7,566.2 L439.1,559.1 L440.5,554.8 L441.9,548.1 L443.3,542.1 L444.7,535.5 L446.1,529.5 L447.5,524.9 L448.9,518.1 L450.3,509.9 L451.7,501.9 L453.1,493.3 L454.5,487.2 L455.9,479.8 L457.3,467.1 L458.7,461.0 L460.1,447.4 L461.5,439.7 L462.9,430.9 L464.3,419.4 L465.7,410.2 L467.1,404.0 L468.5,397.0 L469.9,387.9 L471.3,382.3 L472.7,371.6 L474.1,366.6 L475.5,356.9 L476.9,349.1 L478.3,340.8 L479.7,331.3 L481.1,323.8 L482.5,314.8 L483.9,304.2 L485.3,295.8 L486.7,287.5 L488.1,281.0 L489.5,274.5 L490.9,267.1 L492.3,260.2 L493.7,253.5 L495.1,247.6 L496.5,238.7 L497.9,232.5 L499.3,228.1 L500.7,221.0 L502.1,213.6 L503.5,210.7 L504.9,202.8 L506.3,197.7 L507.7,190.2 L509.1,188.7 L510.5,183.0 L511.9,180.1 L513.3,175.6 L514.7,171.0 L516.1,167.6 L517.5,166.0 L518.9,161.7 L520.3,159.3 L521.7,157.1 L523.1,155.3 L524.5,152.7 L525.9,151.9 L527.3,148.6 L528.7,150.5 L530.1,148.0 L531.5,148.9 L532.9,147.5 L534.3,148.8 L535.7,146.8 L537.1,145.0 L538.5,146.1 L539.9,145.9 L541.3,145.5 L542.7,146.6 L544.1,147.0 L545.5,152.8 L546.9,150.0 L548.3,151.4 L549.7,148.9 L551.1,149.8 L552.5,152.5 L553.9,154.7 L555.3,158.8 L556.7,159.6 L558.1,164.7 L559.5,168.7 L560.9,167.9 L562.3,172.5 L563.7,172.4 L565.1,176.5 L566.5,178.8 L567.9,182.5 L569.3,181.1 L570.7,184.1 L572.1,187.6 L573.5,187.7 L574.9,192.3 L576.3,194.3 L577.7,197.4 L579.1,202.0 L580.5,204.6 L581.9,209.4 L583.3,209.9 L584.7,211.4 L586.1,211.1 L587.5,212.7 L588.9,215.5 L590.3,215.3 L591.7,223.6 L593.1,224.0 L594.5,227.1 L595.9,231.2 L597.3,236.0 L598.7,238.9 L600.1,239.0 L601.5,242.1 L602.9,243.6 L604.3,244.5 L605.7,248.0 L607.1,251.5 L608.5,253.7 L609.9,261.8 L611.3,263.6 L612.7,271.1 L614.1,274.5 L615.5,279.5 L616.9,284.0 L618.3,289.9 L619.7,291.4 L621.1,296.6 L622.5,302.5 L623.9,302.9 L625.3,306.3 L626.7,309.3 L628.1,310.2 L629.5,314.5 L630.9,316.6 L632.3,322.2 L633.7,326.0 L635.1,330.0 L636.5,337.0 L637.9,338.9 L639.3,342.4 L640.7,345.4 L642.1,349.5 L643.5,353.2 L644.9,356.7 L646.3,360.8 L647.7,360.5 L649.1,363.8 L650.5,367.3 L651.9,367.5 L653.3,369.4 L654.7,372.8 L656.1,373.4 L657.5,375.7 L658.9,377.4 L660.3,382.1 L661.7,384.0 L663.1,384.7 L664.5,388.9 L665.9,389.3 L667.3,394.2 L668.7,396.0 L670.1,397.5 L671.5,399.9 L672.9,401.1 L674.3,407.0 L675.7,408.7 L677.1,411.0 L678.5,414.7 L679.9,415.7 L681.3,418.1 L682.7,419.9 L684.1,420.5 L685.5,426.2 L686.9,424.4 L688.3,425.5 L689.7,428.4 L691.1,425.5 L692.5,431.3 L693.9,433.9 L695.3,435.6 L696.7,440.2 L698.1,440.1 L699.5,444.9 L700.9,448.1 L702.3,446.5 L703.7,449.3 L705.1,452.6 L706.5,454.5 L707.9,455.7 L709.3,459.0 L710.7,461.2 L712.1,461.6 L713.5,465.2 L714.9,465.6 L716.3,466.4 L717.7,467.9 L719.1,474.2 L720.5,475.8 L722.0,481.3 L723.4,480.5 L724.8,484.8 L726.2,488.4 L727.6,490.7 L729.0,494.2 L730.4,496.5 L731.8,498.1 L733.2,498.5 L734.6,502.7 L736.0,509.3 L737.4,512.2 L738.8,517.4 L740.2,519.9 L741.6,524.8 L743.0,528.3 L744.4,533.6 L745.8,536.7 L747.2,540.5 L748.6,545.6 L750.0,547.0 L751.4,553.2 L752.8,555.4 L754.2,562.4 L755.6,564.8 L757.0,569.3 L758.4,573.8 L759.8,579.6 L761.2,581.9 L762.6,585.4 L764.0,588.5 L765.4,593.8 L766.8,596.6 L768.2,601.4 L769.6,606.6 L771.0,612.4 L772.4,616.0 L773.8,622.4 L775.2,628.5 L776.6,629.9 L778.0,637.3 L779.4,642.3 L780.8,643.5 L782.2,648.7 L783.6,650.4 L785.0,655.7 L786.4,658.5 L787.8,662.9 L789.2,665.8 L790.6,670.3 L792.0,674.8 L793.4,678.3 L794.8,682.0 L796.2,686.0 L797.6,688.6 L799.0,693.0 L800.4,696.8 L801.8,696.7 L803.2,701.7 L804.6,703.5 L806.0,706.2 L807.4,709.4 L808.8,713.3 L810.2,716.7 L811.6,720.7 L813.0,721.8 L814.4,726.8 L815.8,727.8 L817.2,732.1 L818.6,735.3 L820.0,735.8 L821.4,740.7 L822.8,744.6 L824.2,745.0 L825.6,749.1 L827.0,751.6 L828.4,755.1 L829.8,758.1 L831.2,761.0 L832.6,765.7 L834.0,769.8 L835.4,773.2 L836.8,779.0 L838.2,782.7 L839.6,786.0 L841.0,788.0 L842.4,793.6 L843.8,796.2 L845.2,796.4 L846.6,800.8 L848.0,805.0 L849.4,810.0 L850.8,814.0 L852.2,816.5 L853.6,821.0 L855.0,825.3 L856.4,827.4 L857.8,833.1 L859.2,836.3 L860.6,840.7 L862.0,844.6 L863.4,848.0 L864.8,852.8 L866.2,858.4 L867.6,862.9 L869.0,866.5 L870.4,870.9 L871.8,872.4 L873.2,874.3 L874.6,877.7 L876.0,880.7 L877.4,883.8 L878.8,888.0 L880.2,890.6 L881.6,894.3 L883.0,897.3 L884.4,900.0 L885.8,904.4 L887.2,906.7 L888.6,910.4 L890.0,912.6 L891.4,916.6 L892.8,919.3 L894.2,922.9 L895.6,927.0 L897.0,930.2 L898.4,931.8 L899.8,933.8 L901.2,937.7 L902.6,940.9 L904.0,943.8 L905.4,947.5 L906.8,950.2 L908.2,952.5 L909.6,956.7 L911.0,958.1 L912.4,961.3 L913.8,965.3 L915.2,967.0 L916.6,969.2 L918.0,971.8 L919.4,975.3 L920.8,977.6 L922.2,979.8 L923.6,981.4 L925.0,983.2 L926.4,986.7 L927.8,987.2 L929.2,990.8 L930.6,992.8 L932.0,996.6 L933.4,999.9 L934.8,1004.2 L936.2,1004.4 L937.6,1010.6 L939.0,1011.7 L940.4,1015.0 L941.8,1017.8 L943.2,1019.1 L944.6,1022.0 L946.0,1024.6 L947.4,1025.9 L948.8,1027.1 L950.2,1029.4 L951.6,1031.0 L953.0,1031.6 L954.4,1035.3 L955.8,1036.1 L957.2,1035.7 L958.6,1038.5 L960.0,1042.1 L961.4,1043.8 L962.8,1044.9 L964.2,1045.5 L965.6,1048.7 L967.0,1051.7 L968.4,1053.0 L969.8,1053.9 L971.2,1054.9 L972.6,1057.1 L974.0,1057.6 L975.4,1059.5 L976.8,1061.4 L978.2,1064.2 L979.6,1065.3 L981.0,1067.5 L982.4,1068.0 L983.8,1071.8 L985.2,1073.2 L986.6,1074.0 L988.0,1074.0 L989.4,1076.8 L990.8,1079.0 L992.2,1082.3 L993.6,1083.1 L995.0,1085.1 L996.4,1086.8 L997.8,1088.7 L999.2,1088.4 L1000.6,1089.9 L1002.0,1091.2 L1003.4,1093.3 L1004.8,1094.7 L1006.2,1096.6 L1007.6,1097.3 L1009.0,1099.3 L1010.4,1099.8 L1011.8,1102.7 L1013.2,1101.9 L1014.6,1104.8 L1016.0,1105.5 L1017.4,1105.1 L1018.8,1108.4 L1020.2,1110.1 L1021.6,1110.6 L1023.0,1113.5 L1024.4,1114.0 L1025.8,1114.7 L1027.2,1114.2 L1028.6,1115.2 L1030.0,1116.3 L1031.4,1116.9 L1032.8,1117.8 L1034.2,1119.2 L1035.6,1119.9 L1037.0,1121.9 L1038.4,1121.2 L1039.8,1124.8 L1041.2,1124.8 L1042.6,1126.1 L1044.0,1127.5 L1045.4,1127.6 L1046.8,1131.4 L1048.2,1130.8 L1049.6,1133.2 L1051.0,1134.4 L1052.4,1136.1 L1053.8,1136.5 L1055.2,1136.8 L1056.6,1139.2 L1058.0,1138.7 L1059.4,1141.3 L1060.8,1142.3 L1062.2,1144.6 L1063.6,1144.4 L1065.0,1145.1 L1066.4,1145.6 L1067.8,1146.3 L1069.2,1147.3 L1070.6,1148.9 L1072.0,1148.7 L1073.4,1150.2 L1074.8,1150.1 L1076.2,1151.6 L1077.6,1152.6 L1079.0,1152.7 L1080.4,1154.0 L1081.8,1155.2 L1083.2,1156.3 L1084.6,1157.0 L1086.0,1157.0 L1087.5,1157.0 L1088.9,1157.3 L1090.3,1159.6 L1091.7,1161.0 L1093.1,1161.6 L1094.5,1163.4 L1095.9,1163.1 L1097.3,1163.8 L1098.7,1165.6 L1100.1,1164.8 L1101.5,1166.6 L1102.9,1167.5 L1104.3,1168.5 L1105.7,1170.6 L1107.1,1170.1 L1108.5,1171.2 L1109.9,1170.8 L1111.3,1171.7 L1112.7,1172.3 L1114.1,1172.9 L1115.5,1173.9 L1116.9,1175.3 L1118.3,1175.8 L1119.7,1176.2 L1121.1,1178.5 L1122.5,1179.7 L1123.9,1179.5 L1125.3,1180.2 L1126.7,1182.0 L1128.1,1182.2 L1129.5,1183.0 L1130.9,1183.7 L1132.3,1184.5 L1133.7,1185.2 L1135.1,1186.9 L1136.5,1187.4 L1137.9,1187.9 L1139.3,1188.6 L1140.7,1189.0 L1142.1,1190.1 L1143.5,1189.8 L1144.9,1192.5 L1146.3,1191.4 L1147.7,1192.6 L1149.1,1194.2 L1150.5,1193.8 L1151.9,1194.7 L1153.3,1195.7 L1154.7,1195.0 L1156.1,1197.4 L1157.5,1198.2 L1158.9,1199.4 L1160.3,1200.6 L1161.7,1201.4 L1163.1,1202.6 L1164.5,1203.1 L1165.9,1203.3 L1167.3,1203.2 L1168.7,1204.3 L1170.1,1203.8 L1171.5,1205.1 L1172.9,1206.9 L1174.3,1207.8 L1175.7,1207.9 L1177.1,1209.5 L1178.5,1211.3 L1179.9,1211.9 L1181.3,1212.9 L1182.7,1212.0 L1184.1,1212.8 L1185.5,1213.8 L1186.9,1213.9 L1188.3,1215.1 L1189.7,1216.0 L1191.1,1217.0 L1192.5,1217.6 L1193.9,1218.7 L1195.3,1219.4 L1196.7,1219.4 L1198.1,1219.0 L1199.5,1220.6 L1200.9,1220.6 L1202.3,1221.1 L1203.7,1221.4 L1205.1,1220.8 L1206.5,1222.5 L1207.9,1222.6 L1209.3,1223.2 L1210.7,1225.3 L1212.1,1225.1 L1213.5,1225.9 L1214.9,1226.7 L1216.3,1227.5 L1217.7,1226.2 L1219.1,1227.3 L1220.5,1228.7 L1221.9,1228.8 L1223.3,1228.2 L1224.7,1230.5 L1226.1,1231.0 L1227.5,1231.8 L1228.9,1232.1 L1230.3,1232.6 L1231.7,1234.0 L1233.1,1235.0 L1234.5,1235.7 L1235.9,1236.7 L1237.3,1237.3 L1238.7,1237.1 L1240.1,1238.5 L1241.5,1238.9 L1242.9,1239.2 L1244.3,1237.7 L1245.7,1239.5 L1247.1,1239.9 L1248.5,1240.0 L1249.9,1241.3 L1251.3,1240.8 L1252.7,1242.8 L1254.1,1243.1 L1255.5,1243.4 L1256.9,1244.9 L1258.3,1244.8 L1259.7,1245.0 L1261.1,1244.3 L1262.5,1245.3 L1263.9,1245.9 L1265.3,1246.1 L1266.7,1245.5 L1268.1,1247.4 L1269.5,1248.2 L1270.9,1248.5 L1272.3,1248.6 L1273.7,1248.7 L1275.1,1249.5 L1276.5,1250.1 L1277.9,1250.9 L1279.3,1251.4 L1280.7,1251.3 L1282.1,1251.5 L1283.5,1252.9 L1284.9,1253.4 L1286.3,1255.6 L1287.7,1255.2 L1289.1,1256.6 L1290.5,1257.0 L1291.9,1256.3 L1293.3,1257.4 L1294.7,1257.1 L1296.1,1257.3 L1297.5,1257.7 L1298.9,1258.7 L1300.3,1259.4 L1301.7,1258.2 L1303.1,1259.5 L1304.5,1259.4 L1305.9,1259.5 L1307.3,1260.3 L1308.7,1260.8 L1310.1,1261.1 L1311.5,1261.8 L1312.9,1261.4 L1314.3,1263.1 L1315.7,1262.9 L1317.1,1262.4 L1318.5,1261.9 L1319.9,1262.9 L1321.3,1263.0 L1322.7,1263.8 L1324.1,1264.1 L1325.5,1264.9 L1326.9,1264.2 L1328.3,1264.9 L1329.7,1264.7 L1331.1,1265.1 L1332.5,1266.5 L1333.9,1266.2 L1335.3,1266.6 L1336.7,1266.9 L1338.1,1267.7 L1339.5,1268.2 L1340.9,1268.4 L1342.3,1268.3 L1343.7,1269.4 L1345.1,1269.1 L1346.5,1269.5 L1347.9,1269.9 L1349.3,1270.1 L1350.7,1269.1 L1352.1,1271.1 L1353.5,1270.7 L1354.9,1271.3 L1356.3,1271.6 L1357.7,1270.1 L1359.1,1270.7 L1360.5,1271.5 L1361.9,1272.3 L1363.3,1272.1 L1364.7,1272.6 L1366.1,1273.7 L1367.5,1273.3 L1368.9,1274.3 L1370.3,1275.2 L1371.7,1275.1 L1373.1,1276.1 L1374.5,1275.9 L1375.9,1275.4 L1377.3,1275.9 L1378.7,1276.1 L1380.1,1276.1 L1381.5,1276.4 L1382.9,1276.7 L1384.3,1276.9 L1385.7,1277.1 L1387.1,1277.1 L1388.5,1277.5 L1389.9,1277.7 L1391.3,1277.8 L1392.7,1278.8 L1394.1,1277.6 L1395.5,1278.8 L1396.9,1278.1 L1398.3,1278.7 L1399.7,1279.5 L1401.1,1279.2 L1402.5,1279.9 L1403.9,1278.9 L1405.3,1279.3 L1406.7,1279.5 L1408.1,1280.3 L1409.5,1280.8 L1410.9,1281.2 L1412.3,1281.7 L1413.7,1282.2 L1415.1,1281.7 L1416.5,1281.7 L1417.9,1281.5 L1419.3,1281.4 L1420.7,1281.2 L1422.1,1281.6 L1423.5,1282.3 L1424.9,1281.7 L1426.3,1282.8 L1427.7,1282.3 L1429.1,1282.0 L1430.5,1282.4 L1431.9,1283.1 L1433.3,1283.3 L1434.7,1283.5 L1436.1,1284.3 L1437.5,1284.6 L1438.9,1283.3 L1440.3,1284.5 L1441.7,1284.1 L1443.1,1284.1 L1444.5,1284.6 L1445.9,1285.4 L1447.3,1284.9 L1448.7,1284.8 L1450.1,1285.6 L1451.5,1285.1 L1453.0,1284.8 L1454.4,1285.6 L1455.8,1285.3 L1457.2,1285.2 L1458.6,1285.5 L1460.0,1286.0 L1461.4,1286.3 L1462.8,1286.7 L1464.2,1286.8 L1465.6,1286.8 L1467.0,1286.5 L1468.4,1287.6 L1469.8,1287.3 L1471.2,1286.7 L1472.6,1286.4 L1474.0,1286.9 L1475.4,1286.8 L1476.8,1287.0 L1478.2,1286.4 L1479.6,1288.0 L1481.0,1286.6 L1482.4,1287.5 L1483.8,1288.2 L1485.2,1288.1 L1486.6,1287.3 L1488.0,1288.0 L1489.4,1288.4 L1490.8,1288.3 L1492.2,1287.7 L1493.6,1288.9 L1495.0,1287.6 L1496.4,1288.3 L1497.8,1287.8 L1499.2,1288.2 L1500.6,1288.5 L1502.0,1289.2 L1503.4,1288.7 L1504.8,1289.5 L1506.2,1290.0 L1507.6,1289.5 L1509.0,1289.7 L1510.4,1289.6 L1511.8,1289.1 L1513.2,1289.4 L1514.6,1289.8 L1516.0,1290.3 L1517.4,1291.2 L1518.8,1291.3 L1520.2,1290.6 L1521.6,1290.7 L1523.0,1290.4 L1524.4,1289.8 L1525.8,1291.1 L1527.2,1290.6 L1528.6,1289.5 L1530.0,1290.4 L1531.4,1291.7 L1532.8,1291.3 L1534.2,1291.8 L1535.6,1292.3 L1537.0,1292.3 L1538.4,1292.5 L1539.8,1292.9 L1541.2,1293.5 L1542.6,1293.6 L1544.0,1294.3 L1545.4,1294.9 L1546.8,1294.7 L1548.2,1295.1 L1549.6,1295.0 L1551.0,1295.0 L1552.4,1296.8 L1553.8,1296.6 L1555.2,1297.1 L1556.6,1296.7 L1558.0,1296.3 L1559.4,1297.7 L1560.8,1296.6 L1562.2,1297.8 L1563.6,1298.0 L1565.0,1298.7 L1566.4,1299.2 L1567.8,1299.4 L1569.2,1298.5 L1570.6,1299.9 L1572.0,1299.0 L1573.4,1300.3 L1574.8,1300.3 L1576.2,1300.5 L1577.6,1301.4 L1579.0,1301.8 L1580.4,1302.9 L1581.8,1303.7 L1583.2,1303.8 L1584.6,1303.7 L1586.0,1304.3 L1587.4,1304.3 L1588.8,1305.1 L1590.2,1304.6 L1591.6,1304.3 L1593.0,1304.5 L1594.4,1304.4 L1595.8,1304.7 L1597.2,1305.0 L1598.6,1305.7 L1600.0,1306.3 L1601.4,1306.7 L1602.8,1307.4 L1604.2,1307.3 L1605.6,1307.5 L1607.0,1306.9 L1608.4,1307.8 L1609.8,1308.2 L1611.2,1309.8 L1612.6,1308.7 L1614.0,1309.7 L1615.4,1309.9 L1616.8,1309.8 L1618.2,1310.7 L1619.6,1310.8 L1621.0,1310.3 L1622.4,1310.0 L1623.8,1310.9 L1625.2,1310.6 L1626.6,1311.7 L1628.0,1312.0 L1629.4,1313.1 L1630.8,1313.5 L1632.2,1314.6 L1633.6,1314.6 L1635.0,1314.9 L1636.4,1314.4 L1637.8,1314.0 L1639.2,1314.1 L1640.6,1314.8 L1642.0,1315.6 L1643.4,1315.7 L1644.8,1317.2 L1646.2,1316.5 L1647.6,1316.8 L1649.0,1316.6 L1650.4,1316.1 L1651.8,1316.9 L1653.2,1316.8 L1654.6,1317.0 L1656.0,1316.6 L1657.4,1317.1 L1658.8,1317.3 L1660.2,1318.0 L1661.6,1317.3 L1663.0,1318.2 L1664.4,1318.5 L1665.8,1318.0 L1667.2,1318.0 L1668.6,1318.9 L1670.0,1318.6 L1671.4,1319.1 L1672.8,1319.2 L1674.2,1319.4 L1675.6,1319.0 L1677.0,1318.4 L1678.4,1319.3 L1679.8,1318.9 L1681.2,1319.5 L1682.6,1319.5 L1684.0,1320.6 L1685.4,1320.3 L1686.8,1320.8 L1688.2,1320.9 L1689.6,1320.5 L1691.0,1320.8 L1692.4,1320.9 L1693.8,1321.0 L1695.2,1322.3 L1696.6,1321.9 L1698.0,1322.1 L1699.4,1322.6 L1700.8,1322.9 L1702.2,1322.8 L1703.6,1322.5 L1705.0,1322.4 L1706.4,1321.7 L1707.8,1322.7 L1709.2,1323.2 L1710.6,1322.4 L1712.0,1322.2 L1713.4,1323.2 L1714.8,1323.1 L1716.2,1321.9 L1717.6,1323.2 L1719.0,1322.9 L1720.4,1323.0 L1721.8,1324.3 L1723.2,1324.1 L1724.6,1323.9 L1726.0,1324.1 L1727.4,1324.7 L1728.8,1323.6 L1730.2,1324.2 L1731.6,1323.7 L1733.0,1324.3 L1734.4,1324.2 L1735.8,1323.9 L1737.2,1324.5 L1738.6,1324.3 L1740.0,1324.8 L1741.4,1324.2 L1742.8,1324.6 L1744.2,1324.4 L1745.6,1325.1 L1747.0,1324.6 L1748.4,1325.1 L1749.8,1325.9 L1751.2,1325.9 L1752.6,1326.0 L1754.0,1326.0 L1755.4,1326.0 L1756.8,1326.0 L1758.2,1325.6 L1759.6,1324.9 L1761.0,1325.9 L1762.4,1325.0 L1763.8,1326.0 L1765.2,1325.5 L1766.6,1326.6 L1768.0,1326.0 L1769.4,1325.8 L1770.8,1325.9 L1772.2,1325.0 L1773.6,1325.5 L1775.0,1325.4 L1776.4,1325.8 L1777.8,1325.3 L1779.2,1325.4 L1780.6,1326.5 L1782.0,1326.2 L1783.4,1326.0 L1784.8,1326.1 L1786.2,1325.9 L1787.6,1326.0 L1789.0,1326.4 L1790.4,1326.1 L1791.8,1326.5 L1793.2,1326.2 L1794.6,1326.0 L1796.0,1326.8 L1797.4,1327.3 L1798.8,1327.2 L1800.2,1327.6 L1801.6,1327.6 L1803.0,1328.1 L1804.4,1328.1 L1805.8,1328.2 L1807.2,1327.7 L1808.6,1328.2 L1810.0,1328.5 L1811.4,1328.1 L1812.8,1327.9 L1814.2,1327.5 L1815.6,1328.0 L1817.0,1327.9 L1818.5,1328.4 L1819.9,1328.2 L1821.3,1329.1 L1822.7,1328.5 L1824.1,1328.1 L1825.5,1328.7 L1826.9,1328.9 L1828.3,1329.4 L1829.7,1328.9 L1831.1,1329.1 L1832.5,1329.3 L1833.9,1329.3 L1835.3,1328.7 L1836.7,1329.7 L1838.1,1330.0 L1839.5,1329.4 L1840.9,1329.5 L1842.3,1329.9 L1843.7,1329.7 L1845.1,1330.4 L1846.5,1329.9 L1847.9,1330.2 L1849.3,1329.3 L1850.7,1329.0 L1852.1,1328.7 L1853.5,1328.5 L1854.9,1329.1 L1856.3,1329.2 L1857.7,1329.0 L1859.1,1329.0 L1860.5,1328.2 L1861.9,1329.4 L1863.3,1328.7 L1864.7,1329.7 L1866.1,1330.4 L1867.5,1329.9 L1868.9,1330.4 L1870.3,1330.6 L1871.7,1330.0 L1873.1,1330.0 L1874.5,1330.1 L1875.9,1330.4 L1877.3,1330.7 L1878.7,1330.5 L1880.1,1330.8 L1881.5,1330.2 L1882.9,1329.9 L1884.3,1330.5 L1885.7,1330.6 L1887.1,1330.3 L1888.5,1331.3 L1889.9,1330.8 L1891.3,1330.9 L1892.7,1331.2 L1894.1,1330.6 L1895.5,1331.1 L1896.9,1331.0 L1898.3,1331.0 L1899.7,1330.9 L1901.1,1330.7 L1902.5,1330.5 L1903.9,1330.9 L1905.3,1331.4 L1906.7,1331.5 L1908.1,1331.5 L1909.5,1331.7 L1910.9,1331.7 L1912.3,1330.7 L1913.7,1331.1 L1915.1,1331.6 L1916.5,1331.3 L1917.9,1331.5 L1919.3,1332.0 L1920.7,1331.8 L1922.1,1332.4 L1923.5,1332.1 L1924.9,1332.7 L1926.3,1333.5 L1927.7,1333.1 L1929.1,1332.3 L1930.5,1332.3 L1931.9,1332.4 L1933.3,1332.6 L1934.7,1332.2 L1936.1,1332.9 L1937.5,1333.5 L1938.9,1333.6 L1940.3,1333.0 L1941.7,1333.2 L1943.1,1333.2 L1944.5,1333.0 L1945.9,1333.9 L1947.3,1333.1 L1948.7,1333.1 L1950.1,1333.7 L1951.5,1333.8 L1952.9,1334.4 L1954.3,1334.5 L1955.7,1334.0 L1957.1,1333.4 L1958.5,1334.3 L1959.9,1334.5 L1961.3,1334.9 L1962.7,1334.0 L1964.1,1334.2 L1965.5,1335.2 L1966.9,1335.2 L1968.3,1335.1 L1969.7,1334.7 L1971.1,1335.1 L1972.5,1334.6 L1973.9,1334.5 L1975.3,1335.0 L1976.7,1335.2 L1978.1,1335.6 L1979.5,1335.7 L1980.9,1334.8 L1982.3,1335.4 L1983.7,1335.4 L1985.1,1334.7 L1986.5,1334.9 L1987.9,1335.0 L1989.3,1335.2 L1990.7,1335.0 L1992.1,1335.6 L1993.5,1336.1 L1994.9,1337.0 L1996.3,1337.1 L1997.7,1336.9 L1999.1,1337.1 L2000.5,1335.9" fill="none" stroke="#0000ff" stroke-width="7" stroke-linejoin="round" stroke-linecap="butt" shape-rendering="crispEdges"/>
<path d="M173.0,1182.0 L174.4,1182.0 L175.8,1183.3 L177.2,1184.3 L178.6,1185.1 L180.0,1184.9 L181.4,1184.7 L182.8,1184.8 L184.2,1185.9 L185.6,1186.6 L187.0,1186.3 L188.4,1186.1 L189.8,1187.0 L191.2,1189.2 L192.6,1189.1 L194.0,1188.4 L195.4,1189.6 L196.8,1189.2 L198.2,1189.8 L199.6,1190.2 L201.0,1190.5 L202.4,1191.6 L203.8,1191.6 L205.2,1191.6 L206.6,1192.5 L208.0,1193.1 L209.4,1192.0 L210.8,1193.0 L212.2,1192.7 L213.6,1193.2 L215.0,1192.7 L216.4,1193.6 L217.8,1194.0 L219.2,1194.2 L220.6,1194.2 L222.0,1195.0 L223.4,1195.0 L224.8,1195.2 L226.2,1196.6 L227.6,1196.5 L229.0,1198.4 L230.4,1198.9 L231.8,1198.1 L233.2,1200.0 L234.6,1199.7 L236.0,1200.8 L237.4,1201.2 L238.8,1200.4 L240.2,1201.6 L241.6,1201.8 L243.0,1202.7 L244.4,1202.0 L245.8,1203.7 L247.2,1203.5 L248.6,1204.8 L250.0,1205.3 L251.4,1207.0 L252.8,1206.7 L254.2,1207.7 L255.6,1206.6 L257.0,1206.6 L258.4,1206.5 L259.8,1205.6 L261.2,1205.8 L262.6,1206.3 L264.0,1205.0 L265.4,1204.7 L266.8,1204.0 L268.2,1203.9 L269.6,1203.2 L271.0,1203.2 L272.4,1203.2 L273.8,1202.8 L275.2,1202.0 L276.6,1202.7 L278.0,1201.2 L279.4,1200.9 L280.8,1200.2 L282.2,1200.7 L283.6,1199.4 L285.0,1198.6 L286.4,1198.3 L287.8,1198.9 L289.2,1197.8 L290.6,1197.4 L292.0,1198.0 L293.4,1196.4 L294.8,1196.0 L296.2,1195.0 L297.6,1193.3 L299.0,1192.2 L300.4,1191.9 L301.8,1190.1 L303.2,1189.1 L304.6,1188.4 L306.0,1189.0 L307.4,1188.7 L308.8,1188.6 L310.2,1187.5 L311.6,1186.6 L313.0,1185.6 L314.4,1184.7 L315.8,1184.1 L317.2,1182.7 L318.6,1181.8 L320.0,1181.6 L321.4,1179.4 L322.8,1176.7 L324.2,1176.9 L325.6,1174.5 L327.0,1172.2 L328.4,1171.9 L329.8,1170.1 L331.2,1168.5 L332.6,1167.1 L334.0,1165.4 L335.4,1164.4 L336.8,1163.2 L338.2,1160.7 L339.6,1159.5 L341.0,1158.8 L342.4,1155.5 L343.8,1155.0 L345.2,1152.9 L346.6,1150.2 L348.0,1147.4 L349.4,1144.7 L350.8,1141.5 L352.2,1137.6 L353.6,1134.8 L355.0,1132.3 L356.5,1128.9 L357.9,1126.2 L359.3,1123.1 L360.7,1120.4 L362.1,1119.0 L363.5,1116.2 L364.9,1113.7 L366.3,1111.7 L367.7,1107.9 L369.1,1105.2 L370.5,1102.5 L371.9,1098.7 L373.3,1095.5 L374.7,1090.8 L376.1,1086.2 L377.5,1085.0 L378.9,1081.2 L380.3,1076.5 L381.7,1074.4 L383.1,1069.0 L384.5,1063.0 L385.9,1059.3 L387.3,1054.6 L388.7,1051.6 L390.1,1045.3 L391.5,1041.0 L392.9,1036.1 L394.3,1031.1 L395.7,1025.7 L397.1,1021.8 L398.5,1017.7 L399.9,1012.6 L401.3,1006.4 L402.7,1001.1 L404.1,996.7 L405.5,990.7 L406.9,985.3 L408.3,979.2 L409.7,976.7 L411.1,970.4 L412.5,962.9 L413.9,957.9 L415.3,951.4 L416.7,941.3 L418.1,935.9 L419.5,929.2 L420.9,923.1 L422.3,915.3 L423.7,908.0 L425.1,901.1 L426.5,895.9 L427.9,889.7 L429.3,881.5 L430.7,875.3 L432.1,872.5 L433.5,863.0 L434.9,856.8 L436.3,850.7 L437.7,844.5 L439.1,838.3 L440.5,830.8 L441.9,822.4 L443.3,816.1 L444.7,808.0 L446.1,801.4 L447.5,791.6 L448.9,782.3 L450.3,774.4 L451.7,768.5 L453.1,758.2 L454.5,748.2 L455.9,741.2 L457.3,733.4 L458.7,726.3 L460.1,716.0 L461.5,709.8 L462.9,702.3 L464.3,693.2 L465.7,686.2 L467.1,680.4 L468.5,672.5 L469.9,664.2 L471.3,657.0 L472.7,651.9 L474.1,645.3 L475.5,640.0 L476.9,633.5 L478.3,628.3 L479.7,621.8 L481.1,618.3 L482.5,608.8 L483.9,604.0 L485.3,597.3 L486.7,588.4 L488.1,582.5 L489.5,571.9 L490.9,568.0 L492.3,562.8 L493.7,553.2 L495.1,548.0 L496.5,543.7 L497.9,535.5 L499.3,528.2 L500.7,523.3 L502.1,517.7 L503.5,513.8 L504.9,507.8 L506.3,501.0 L507.7,494.3 L509.1,489.2 L510.5,485.7 L511.9,480.1 L513.3,476.3 L514.7,471.0 L516.1,465.1 L517.5,461.3 L518.9,458.5 L520.3,454.0 L521.7,449.6 L523.1,445.9 L524.5,445.2 L525.9,441.6 L527.3,438.1 L528.7,434.2 L530.1,430.7 L531.5,426.5 L532.9,423.3 L534.3,419.5 L535.7,416.7 L537.1,413.1 L538.5,409.1 L539.9,406.9 L541.3,405.2 L542.7,402.0 L544.1,400.9 L545.5,399.5 L546.9,395.3 L548.3,392.3 L549.7,394.0 L551.1,391.1 L552.5,390.5 L553.9,386.7 L555.3,388.9 L556.7,386.1 L558.1,383.3 L559.5,381.2 L560.9,380.0 L562.3,377.9 L563.7,376.0 L565.1,373.2 L566.5,374.4 L567.9,371.1 L569.3,366.4 L570.7,362.2 L572.1,355.3 L573.5,355.5 L574.9,351.7 L576.3,349.5 L577.7,348.0 L579.1,345.1 L580.5,345.0 L581.9,340.5 L583.3,338.1 L584.7,336.9 L586.1,337.1 L587.5,336.6 L588.9,333.2 L590.3,329.2 L591.7,328.7 L593.1,322.2 L594.5,321.6 L595.9,316.8 L597.3,312.9 L598.7,310.3 L600.1,309.2 L601.5,307.2 L602.9,303.3 L604.3,302.7 L605.7,303.4 L607.1,300.7 L608.5,300.0 L609.9,300.8 L611.3,301.0 L612.7,302.6 L614.1,302.9 L615.5,302.1 L616.9,304.0 L618.3,299.6 L619.7,300.8 L621.1,304.8 L622.5,303.5 L623.9,302.8 L625.3,302.7 L626.7,304.4 L628.1,303.2 L629.5,303.3 L630.9,302.8 L632.3,305.8 L633.7,307.0 L635.1,309.0 L636.5,310.8 L637.9,313.1 L639.3,313.9 L640.7,315.6 L642.1,311.9 L643.5,311.5 L644.9,312.7 L646.3,311.4 L647.7,317.0 L649.1,321.6 L650.5,323.9 L651.9,323.2 L653.3,319.7 L654.7,319.7 L656.1,317.9 L657.5,314.7 L658.9,314.5 L660.3,311.7 L661.7,309.4 L663.1,310.4 L664.5,309.5 L665.9,309.4 L667.3,312.3 L668.7,317.7 L670.1,320.6 L671.5,322.1 L672.9,324.2 L674.3,325.6 L675.7,328.4 L677.1,330.0 L678.5,330.7 L679.9,330.3 L681.3,331.4 L682.7,334.1 L684.1,335.2 L685.5,337.7 L686.9,337.2 L688.3,339.8 L689.7,346.4 L691.1,349.4 L692.5,353.4 L693.9,354.9 L695.3,356.2 L696.7,358.0 L698.1,358.3 L699.5,363.2 L700.9,363.5 L702.3,366.9 L703.7,368.3 L705.1,369.8 L706.5,371.5 L707.9,370.5 L709.3,371.1 L710.7,370.8 L712.1,371.8 L713.5,375.1 L714.9,373.7 L716.3,376.8 L717.7,377.8 L719.1,379.4 L720.5,381.5 L722.0,381.4 L723.4,384.9 L724.8,388.2 L726.2,387.7 L727.6,391.1 L729.0,393.1 L730.4,397.2 L731.8,398.5 L733.2,404.9 L734.6,406.2 L736.0,408.8 L737.4,417.2 L738.8,421.2 L740.2,426.3 L741.6,432.5 L743.0,439.1 L744.4,448.5 L745.8,454.8 L747.2,458.6 L748.6,461.8 L750.0,464.0 L751.4,467.1 L752.8,473.7 L754.2,483.3 L755.6,491.4 L757.0,496.7 L758.4,502.7 L759.8,510.2 L761.2,514.8 L762.6,520.0 L764.0,523.5 L765.4,530.8 L766.8,537.3 L768.2,544.9 L769.6,549.6 L771.0,559.7 L772.4,565.2 L773.8,571.5 L775.2,575.5 L776.6,582.5 L778.0,589.8 L779.4,592.7 L780.8,601.0 L782.2,607.6 L783.6,611.9 L785.0,618.8 L786.4,622.7 L787.8,629.5 L789.2,634.6 L790.6,640.4 L792.0,648.1 L793.4,651.8 L794.8,656.1 L796.2,656.2 L797.6,658.5 L799.0,661.4 L800.4,662.4 L801.8,662.4 L803.2,664.3 L804.6,663.7 L806.0,666.5 L807.4,666.9 L808.8,670.4 L810.2,671.6 L811.6,673.0 L813.0,674.6 L814.4,676.7 L815.8,674.0 L817.2,674.5 L818.6,676.3 L820.0,675.0 L821.4,677.9 L822.8,677.6 L824.2,679.3 L825.6,681.5 L827.0,684.6 L828.4,685.0 L829.8,686.1 L831.2,686.8 L832.6,686.1 L834.0,688.0 L835.4,692.1 L836.8,693.7 L838.2,695.9 L839.6,698.8 L841.0,700.6 L842.4,704.5 L843.8,706.1 L845.2,710.1 L846.6,711.4 L848.0,714.0 L849.4,716.6 L850.8,718.2 L852.2,722.0 L853.6,725.0 L855.0,728.3 L856.4,732.3 L857.8,732.1 L859.2,734.0 L860.6,737.8 L862.0,739.6 L863.4,741.9 L864.8,741.6 L866.2,742.4 L867.6,741.4 L869.0,743.8 L870.4,744.7 L871.8,743.8 L873.2,744.5 L874.6,745.5 L876.0,745.8 L877.4,742.5 L878.8,745.2 L880.2,745.1 L881.6,744.5 L883.0,745.0 L884.4,745.8 L885.8,745.4 L887.2,748.1 L888.6,748.7 L890.0,748.9 L891.4,750.6 L892.8,752.2 L894.2,749.8 L895.6,750.1 L897.0,750.6 L898.4,754.6 L899.8,752.8 L901.2,753.2 L902.6,752.9 L904.0,753.5 L905.4,753.8 L906.8,758.1 L908.2,761.1 L909.6,762.4 L911.0,766.9 L912.4,770.7 L913.8,774.4 L915.2,777.2 L916.6,780.1 L918.0,782.0 L919.4,783.2 L920.8,785.0 L922.2,784.2 L923.6,786.5 L925.0,789.6 L926.4,790.3 L927.8,791.4 L929.2,791.4 L930.6,794.0 L932.0,799.4 L933.4,802.4 L934.8,805.4 L936.2,808.7 L937.6,810.5 L939.0,814.8 L940.4,817.3 L941.8,819.6 L943.2,820.1 L944.6,822.0 L946.0,823.3 L947.4,827.3 L948.8,829.0 L950.2,827.7 L951.6,829.2 L953.0,830.0 L954.4,830.7 L955.8,830.4 L957.2,834.0 L958.6,836.5 L960.0,836.1 L961.4,838.0 L962.8,836.9 L964.2,842.2 L965.6,842.8 L967.0,843.8 L968.4,845.0 L969.8,846.1 L971.2,847.7 L972.6,848.2 L974.0,848.9 L975.4,850.0 L976.8,851.3 L978.2,853.9 L979.6,852.7 L981.0,855.8 L982.4,856.7 L983.8,857.9 L985.2,858.3 L986.6,861.9 L988.0,861.3 L989.4,862.4 L990.8,864.6 L992.2,864.7 L993.6,867.1 L995.0,868.3 L996.4,870.2 L997.8,871.4 L999.2,871.0 L1000.6,874.0 L1002.0,874.7 L1003.4,876.6 L1004.8,877.8 L1006.2,880.1 L1007.6,879.9 L1009.0,882.6 L1010.4,884.6 L1011.8,884.3 L1013.2,887.0 L1014.6,885.1 L1016.0,886.4 L1017.4,886.3 L1018.8,886.9 L1020.2,887.3 L1021.6,888.8 L1023.0,890.1 L1024.4,890.0 L1025.8,891.7 L1027.2,892.6 L1028.6,890.6 L1030.0,893.5 L1031.4,893.9 L1032.8,894.8 L1034.2,897.5 L1035.6,897.2 L1037.0,897.3 L1038.4,898.2 L1039.8,897.3 L1041.2,900.9 L1042.6,900.7 L1044.0,902.5 L1045.4,903.6 L1046.8,905.3 L1048.2,906.9 L1049.6,906.6 L1051.0,907.4 L1052.4,906.7 L1053.8,908.1 L1055.2,909.2 L1056.6,908.1 L1058.0,911.9 L1059.4,910.6 L1060.8,911.3 L1062.2,914.8 L1063.6,915.9 L1065.0,914.0 L1066.4,914.5 L1067.8,918.3 L1069.2,916.7 L1070.6,916.2 L1072.0,918.6 L1073.4,922.0 L1074.8,921.8 L1076.2,922.5 L1077.6,923.4 L1079.0,923.8 L1080.4,924.2 L1081.8,924.6 L1083.2,927.8 L1084.6,927.6 L1086.0,929.1 L1087.5,930.9 L1088.9,930.0 L1090.3,929.8 L1091.7,930.1 L1093.1,931.3 L1094.5,932.3 L1095.9,931.5 L1097.3,934.0 L1098.7,936.7 L1100.1,937.2 L1101.5,937.1 L1102.9,938.0 L1104.3,937.5 L1105.7,939.1 L1107.1,941.6 L1108.5,940.7 L1109.9,940.7 L1111.3,941.8 L1112.7,943.3 L1114.1,944.8 L1115.5,945.9 L1116.9,946.6 L1118.3,948.3 L1119.7,949.3 L1121.1,948.1 L1122.5,949.0 L1123.9,951.7 L1125.3,951.0 L1126.7,952.9 L1128.1,954.0 L1129.5,955.3 L1130.9,955.9 L1132.3,956.4 L1133.7,958.6 L1135.1,958.6 L1136.5,959.4 L1137.9,960.4 L1139.3,963.7 L1140.7,962.8 L1142.1,965.4 L1143.5,966.2 L1144.9,966.8 L1146.3,966.5 L1147.7,966.9 L1149.1,968.5 L1150.5,969.1 L1151.9,969.7 L1153.3,972.7 L1154.7,971.9 L1156.1,974.9 L1157.5,974.7 L1158.9,974.7 L1160.3,976.2 L1161.7,977.7 L1163.1,976.5 L1164.5,977.6 L1165.9,977.9 L1167.3,979.1 L1168.7,979.7 L1170.1,980.0 L1171.5,980.5 L1172.9,981.8 L1174.3,984.4 L1175.7,985.3 L1177.1,985.2 L1178.5,984.7 L1179.9,986.8 L1181.3,987.2 L1182.7,988.0 L1184.1,990.2 L1185.5,990.7 L1186.9,990.3 L1188.3,991.1 L1189.7,993.5 L1191.1,993.3 L1192.5,994.5 L1193.9,994.7 L1195.3,995.0 L1196.7,997.0 L1198.1,999.0 L1199.5,999.0 L1200.9,998.5 L1202.3,999.7 L1203.7,999.9 L1205.1,1001.0 L1206.5,1002.3 L1207.9,1003.9 L1209.3,1003.8 L1210.7,1004.8 L1212.1,1006.8 L1213.5,1008.2 L1214.9,1008.9 L1216.3,1009.8 L1217.7,1010.1 L1219.1,1009.6 L1220.5,1011.7 L1221.9,1012.2 L1223.3,1013.3 L1224.7,1015.9 L1226.1,1016.6 L1227.5,1019.3 L1228.9,1018.8 L1230.3,1018.8 L1231.7,1018.2 L1233.1,1018.7 L1234.5,1019.9 L1235.9,1019.2 L1237.3,1021.2 L1238.7,1020.2 L1240.1,1023.3 L1241.5,1025.1 L1242.9,1026.1 L1244.3,1027.1 L1245.7,1029.1 L1247.1,1028.8 L1248.5,1029.5 L1249.9,1030.9 L1251.3,1032.2 L1252.7,1032.0 L1254.1,1031.8 L1255.5,1032.4 L1256.9,1032.8 L1258.3,1031.8 L1259.7,1031.0 L1261.1,1032.7 L1262.5,1033.0 L1263.9,1034.5 L1265.3,1034.8 L1266.7,1035.6 L1268.1,1037.1 L1269.5,1037.5 L1270.9,1038.1 L1272.3,1040.1 L1273.7,1039.2 L1275.1,1039.8 L1276.5,1041.5 L1277.9,1040.4 L1279.3,1040.7 L1280.7,1043.6 L1282.1,1043.6 L1283.5,1044.6 L1284.9,1045.7 L1286.3,1047.2 L1287.7,1047.6 L1289.1,1049.2 L1290.5,1049.6 L1291.9,1051.4 L1293.3,1052.5 L1294.7,1053.0 L1296.1,1055.0 L1297.5,1057.7 L1298.9,1056.0 L1300.3,1058.5 L1301.7,1059.5 L1303.1,1060.2 L1304.5,1059.5 L1305.9,1061.5 L1307.3,1061.8 L1308.7,1062.0 L1310.1,1062.6 L1311.5,1063.9 L1312.9,1065.0 L1314.3,1065.3 L1315.7,1066.3 L1317.1,1064.5 L1318.5,1065.2 L1319.9,1064.6 L1321.3,1065.7 L1322.7,1065.6 L1324.1,1065.8 L1325.5,1066.2 L1326.9,1067.5 L1328.3,1069.1 L1329.7,1070.8 L1331.1,1071.0 L1332.5,1070.2 L1333.9,1071.0 L1335.3,1071.6 L1336.7,1071.8 L1338.1,1072.6 L1339.5,1074.2 L1340.9,1075.1 L1342.3,1075.6 L1343.7,1075.6 L1345.1,1077.1 L1346.5,1076.5 L1347.9,1077.9 L1349.3,1078.7 L1350.7,1078.3 L1352.1,1080.0 L1353.5,1080.9 L1354.9,1083.5 L1356.3,1083.2 L1357.7,1081.9 L1359.1,1083.5 L1360.5,1083.4 L1361.9,1082.9 L1363.3,1083.0 L1364.7,1083.9 L1366.1,1084.2 L1367.5,1084.5 L1368.9,1084.1 L1370.3,1085.2 L1371.7,1084.9 L1373.1,1085.6 L1374.5,1086.7 L1375.9,1086.9 L1377.3,1087.6 L1378.7,1089.6 L1380.1,1088.5 L1381.5,1087.9 L1382.9,1087.7 L1384.3,1089.3 L1385.7,1089.6 L1387.1,1089.6 L1388.5,1092.0 L1389.9,1091.5 L1391.3,1092.4 L1392.7,1094.7 L1394.1,1093.6 L1395.5,1094.4 L1396.9,1095.3 L1398.3,1095.6 L1399.7,1095.7 L1401.1,1096.7 L1402.5,1098.3 L1403.9,1098.1 L1405.3,1098.1 L1406.7,1098.8 L1408.1,1099.3 L1409.5,1100.3 L1410.9,1100.7 L1412.3,1100.9 L1413.7,1101.7 L1415.1,1101.4 L1416.5,1103.0 L1417.9,1103.7 L1419.3,1105.1 L1420.7,1104.3 L1422.1,1107.0 L1423.5,1105.5 L1424.9,1106.0 L1426.3,1107.7 L1427.7,1107.8 L1429.1,1110.3 L1430.5,1110.6 L1431.9,1111.1 L1433.3,1112.9 L1434.7,1113.4 L1436.1,1115.2 L1437.5,1115.7 L1438.9,1115.5 L1440.3,1115.3 L1441.7,1116.3 L1443.1,1117.7 L1444.5,1117.2 L1445.9,1117.7 L1447.3,1119.2 L1448.7,1119.4 L1450.1,1119.1 L1451.5,1119.5 L1453.0,1119.1 L1454.4,1122.0 L1455.8,1122.4 L1457.2,1122.8 L1458.6,1124.1 L1460.0,1125.1 L1461.4,1127.6 L1462.8,1127.8 L1464.2,1127.6 L1465.6,1130.9 L1467.0,1131.8 L1468.4,1131.5 L1469.8,1131.5 L1471.2,1134.8 L1472.6,1134.5 L1474.0,1135.4 L1475.4,1135.5 L1476.8,1137.1 L1478.2,1137.7 L1479.6,1138.0 L1481.0,1138.3 L1482.4,1139.5 L1483.8,1140.6 L1485.2,1140.2 L1486.6,1142.9 L1488.0,1143.2 L1489.4,1144.9 L1490.8,1146.2 L1492.2,1147.7 L1493.6,1148.3 L1495.0,1149.4 L1496.4,1148.5 L1497.8,1149.1 L1499.2,1150.8 L1500.6,1151.3 L1502.0,1153.0 L1503.4,1152.8 L1504.8,1154.4 L1506.2,1155.9 L1507.6,1156.8 L1509.0,1156.9 L1510.4,1158.2 L1511.8,1158.7 L1513.2,1157.5 L1514.6,1159.4 L1516.0,1159.9 L1517.4,1160.4 L1518.8,1161.1 L1520.2,1162.3 L1521.6,1163.0 L1523.0,1163.2 L1524.4,1164.2 L1525.8,1164.5 L1527.2,1164.1 L1528.6,1164.5 L1530.0,1165.8 L1531.4,1165.2 L1532.8,1165.9 L1534.2,1166.4 L1535.6,1167.3 L1537.0,1167.7 L1538.4,1169.0 L1539.8,1168.8 L1541.2,1170.2 L1542.6,1170.1 L1544.0,1171.3 L1545.4,1172.1 L1546.8,1172.1 L1548.2,1171.7 L1549.6,1174.2 L1551.0,1174.3 L1552.4,1174.5 L1553.8,1174.4 L1555.2,1175.1 L1556.6,1176.3 L1558.0,1176.9 L1559.4,1178.4 L1560.8,1178.5 L1562.2,1178.2 L1563.6,1179.1 L1565.0,1178.3 L1566.4,1178.9 L1567.8,1178.0 L1569.2,1179.3 L1570.6,1180.4 L1572.0,1180.1 L1573.4,1180.8 L1574.8,1181.5 L1576.2,1181.7 L1577.6,1183.3 L1579.0,1182.7 L1580.4,1183.3 L1581.8,1183.9 L1583.2,1183.3 L1584.6,1184.0 L1586.0,1185.8 L1587.4,1185.8 L1588.8,1187.2 L1590.2,1186.7 L1591.6,1186.8 L1593.0,1187.7 L1594.4,1187.5 L1595.8,1188.6 L1597.2,1187.5 L1598.6,1188.8 L1600.0,1189.4 L1601.4,1189.9 L1602.8,1191.0 L1604.2,1191.8 L1605.6,1192.0 L1607.0,1192.3 L1608.4,1193.7 L1609.8,1193.5 L1611.2,1194.2 L1612.6,1194.6 L1614.0,1194.5 L1615.4,1194.6 L1616.8,1195.8 L1618.2,1197.1 L1619.6,1197.1 L1621.0,1198.3 L1622.4,1197.9 L1623.8,1198.1 L1625.2,1197.5 L1626.6,1197.8 L1628.0,1198.5 L1629.4,1198.0 L1630.8,1198.6 L1632.2,1198.9 L1633.6,1200.4 L1635.0,1199.6 L1636.4,1200.2 L1637.8,1201.0 L1639.2,1201.2 L1640.6,1200.4 L1642.0,1201.4 L1643.4,1200.1 L1644.8,1201.8 L1646.2,1201.8 L1647.6,1201.3 L1649.0,1201.4 L1650.4,1202.6 L1651.8,1203.5 L1653.2,1204.0 L1654.6,1204.1 L1656.0,1204.7 L1657.4,1204.8 L1658.8,1204.0 L1660.2,1205.1 L1661.6,1205.7 L1663.0,1207.1 L1664.4,1206.8 L1665.8,1208.0 L1667.2,1207.9 L1668.6,1209.7 L1670.0,1208.8 L1671.4,1209.0 L1672.8,1209.0 L1674.2,1209.1 L1675.6,1210.4 L1677.0,1209.0 L1678.4,1209.3 L1679.8,1210.2 L1681.2,1211.3 L1682.6,1211.1 L1684.0,1212.7 L1685.4,1213.3 L1686.8,1213.4 L1688.2,1213.8 L1689.6,1214.0 L1691.0,1214.5 L1692.4,1214.3 L1693.8,1215.3 L1695.2,1215.3 L1696.6,1214.2 L1698.0,1214.3 L1699.4,1213.4 L1700.8,1214.5 L1702.2,1215.7 L1703.6,1216.5 L1705.0,1217.4 L1706.4,1218.5 L1707.8,1218.6 L1709.2,1218.6 L1710.6,1219.6 L1712.0,1217.6 L1713.4,1217.9 L1714.8,1218.2 L1716.2,1218.6 L1717.6,1219.0 L1719.0,1220.0 L1720.4,1220.4 L1721.8,1221.2 L1723.2,1221.8 L1724.6,1221.7 L1726.0,1221.9 L1727.4,1221.5 L1728.8,1221.4 L1730.2,1221.7 L1731.6,1222.1 L1733.0,1221.6 L1734.4,1222.0 L1735.8,1222.3 L1737.2,1222.9 L1738.6,1222.4 L1740.0,1223.9 L1741.4,1224.2 L1742.8,1225.5 L1744.2,1225.2 L1745.6,1225.3 L1747.0,1225.1 L1748.4,1225.1 L1749.8,1223.8 L1751.2,1224.2 L1752.6,1224.2 L1754.0,1224.7 L1755.4,1224.0 L1756.8,1224.5 L1758.2,1225.4 L1759.6,1224.3 L1761.0,1225.2 L1762.4,1224.7 L1763.8,1225.3 L1765.2,1225.9 L1766.6,1226.4 L1768.0,1225.8 L1769.4,1225.7 L1770.8,1227.1 L1772.2,1226.6 L1773.6,1227.0 L1775.0,1227.1 L1776.4,1226.9 L1777.8,1226.3 L1779.2,1226.4 L1780.6,1225.8 L1782.0,1226.9 L1783.4,1226.7 L1784.8,1227.2 L1786.2,1228.4 L1787.6,1228.1 L1789.0,1228.1 L1790.4,1227.9 L1791.8,1229.4 L1793.2,1230.1 L1794.6,1229.0 L1796.0,1229.5 L1797.4,1228.9 L1798.8,1229.2 L1800.2,1229.4 L1801.6,1229.2 L1803.0,1230.1 L1804.4,1229.6 L1805.8,1231.0 L1807.2,1230.6 L1808.6,1229.8 L1810.0,1229.8 L1811.4,1229.8 L1812.8,1230.2 L1814.2,1230.6 L1815.6,1230.9 L1817.0,1231.5 L1818.5,1231.5 L1819.9,1232.0 L1821.3,1232.3 L1822.7,1232.8 L1824.1,1232.8 L1825.5,1234.5 L1826.9,1234.2 L1828.3,1234.8 L1829.7,1235.6 L1831.1,1236.0 L1832.5,1236.5 L1833.9,1236.2 L1835.3,1235.5 L1836.7,1235.7 L1838.1,1236.4 L1839.5,1236.3 L1840.9,1237.0 L1842.3,1237.1 L1843.7,1238.3 L1845.1,1238.6 L1846.5,1238.8 L1847.9,1238.8 L1849.3,1238.6 L1850.7,1239.2 L1852.1,1240.5 L1853.5,1241.0 L1854.9,1239.6 L1856.3,1241.2 L1857.7,1242.3 L1859.1,1242.7 L1860.5,1242.4 L1861.9,1243.3 L1863.3,1243.1 L1864.7,1243.0 L1866.1,1243.7 L1867.5,1243.8 L1868.9,1243.0 L1870.3,1242.8 L1871.7,1242.8 L1873.1,1243.3 L1874.5,1245.4 L1875.9,1246.4 L1877.3,1246.1 L1878.7,1246.7 L1880.1,1245.9 L1881.5,1246.0 L1882.9,1246.2 L1884.3,1245.8 L1885.7,1245.6 L1887.1,1245.0 L1888.5,1245.4 L1889.9,1246.2 L1891.3,1246.3 L1892.7,1246.8 L1894.1,1246.8 L1895.5,1247.3 L1896.9,1247.9 L1898.3,1248.7 L1899.7,1248.9 L1901.1,1248.9 L1902.5,1249.3 L1903.9,1250.0 L1905.3,1249.6 L1906.7,1249.3 L1908.1,1249.3 L1909.5,1250.0 L1910.9,1250.4 L1912.3,1251.0 L1913.7,1250.7 L1915.1,1251.8 L1916.5,1251.3 L1917.9,1251.5 L1919.3,1251.5 L1920.7,1252.1 L1922.1,1252.5 L1923.5,1252.4 L1924.9,1252.6 L1926.3,1252.5 L1927.7,1253.6 L1929.1,1253.7 L1930.5,1254.1 L1931.9,1254.4 L1933.3,1254.6 L1934.7,1255.0 L1936.1,1255.6 L1937.5,1256.1 L1938.9,1256.1 L1940.3,1256.9 L1941.7,1257.4 L1943.1,1258.1 L1944.5,1258.2 L1945.9,1259.6 L1947.3,1259.8 L1948.7,1260.3 L1950.1,1259.5 L1951.5,1259.8 L1952.9,1259.1 L1954.3,1259.6 L1955.7,1259.5 L1957.1,1260.0 L1958.5,1259.8 L1959.9,1260.3 L1961.3,1260.0 L1962.7,1260.8 L1964.1,1260.6 L1965.5,1260.5 L1966.9,1260.7 L1968.3,1260.8 L1969.7,1260.2 L1971.1,1260.5 L1972.5,1261.7 L1973.9,1261.8 L1975.3,1261.0 L1976.7,1261.2 L1978.1,1261.6 L1979.5,1262.1 L1980.9,1262.1 L1982.3,1262.5 L1983.7,1262.6 L1985.1,1263.1 L1986.5,1261.3 L1987.9,1261.9 L1989.3,1262.4 L1990.7,1261.5 L1992.1,1261.6 L1993.5,1262.5 L1994.9,1263.0 L1996.3,1263.2 L1997.7,1262.0 L1999.1,1262.4 L2000.5,1263.4" fill="none" stroke="#ff8000" stroke-width="7" stroke-linejoin="round" stroke-linecap="butt" shape-rendering="crispEdges"/>
<g font-family="Liberation Sans, Arial, sans-serif" font-size="60" text-anchor="middle" fill="#000">
<text x="243.0" y="1476">400</text>
<text x="594.3" y="1476">450</text>
<text x="945.6" y="1476">500</text>
<text x="1296.9" y="1476">550</text>
<text x="1648.2" y="1476">600</text>
<text x="1999.5" y="1476">650</text>
</g>
<text x="0" y="0" transform="translate(95,1134) rotate(-90)" font-family="Liberation Sans, Arial, sans-serif" font-size="71.5" fill="#000">Emission Intensity [a.u.]</text>
<text x="981" y="1597" font-family="Liberation Serif, serif" font-size="76" fill="#000">λ</text>
<text x="1041" y="1596" font-family="Liberation Sans, Arial, sans-serif" font-size="78" fill="#000">[nm]</text>
<path d="M1498,157.5 H1665" stroke="#00ff00" stroke-width="6" stroke-linecap="round"/>
<text x="1684" y="181.0" font-family="Liberation Sans, Arial, sans-serif" font-size="67" fill="#000">(2)</text>
<path d="M1498,238.0 H1665" stroke="#00ffff" stroke-width="6" stroke-linecap="round"/>
<text x="1684" y="261.5" font-family="Liberation Sans, Arial, sans-serif" font-size="67" fill="#000">(4)</text>
<path d="M1498,318.5 H1665" stroke="#000000" stroke-width="6" stroke-linecap="round"/>
<text x="1684" y="342.0" font-family="Liberation Sans, Arial, sans-serif" font-size="67" fill="#000">(HL)</text>
<path d="M1498,399.0 H1665" stroke="#ff0000" stroke-width="6" stroke-linecap="round"/>
<text x="1684" y="422.5" font-family="Liberation Sans, Arial, sans-serif" font-size="67" fill="#000">(3b)</text>
<path d="M1498,479.5 H1665" stroke="#0000ff" stroke-width="6" stroke-linecap="round"/>
<text x="1684" y="503.0" font-family="Liberation Sans, Arial, sans-serif" font-size="67" fill="#000">(3a)</text>
<path d="M1498,560.0 H1665" stroke="#ff8000" stroke-width="6" stroke-linecap="round"/>
<text x="1684" y="583.5" font-family="Liberation Sans, Arial, sans-serif" font-size="67" fill="#000">(1)</text>
<path d="M1709,578.5h14v6h-14z M1729,578.5h13v6h-13z" fill="#fff"/>
</svg>
</body></html>
